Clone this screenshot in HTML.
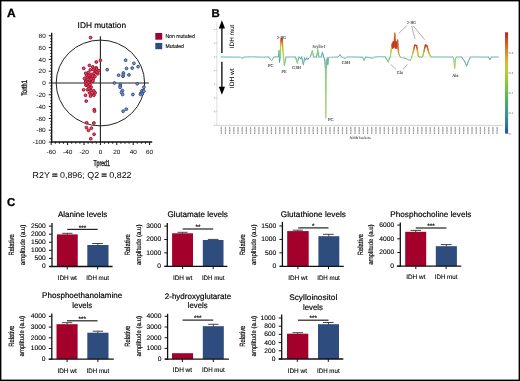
<!DOCTYPE html>
<html><head><meta charset="utf-8"><style>
html,body{margin:0;padding:0;background:#fff;}
body{width:520px;height:381px;overflow:hidden;}
svg{display:block;font-family:"Liberation Sans", sans-serif;will-change:transform;text-rendering:geometricPrecision;}
</style></head><body>
<svg width="520" height="381" viewBox="0 0 520 381">
<rect x="0" y="0" width="520" height="381" fill="#fff"/>
<text x="6.90" y="17.40" font-size="11.9" text-anchor="start" font-weight="bold" fill="#000"  stroke="#000" stroke-width="0.35">A</text>
<text x="77.60" y="27.75" font-size="8.2" text-anchor="start" font-weight="normal" fill="#000" textLength="48.4" lengthAdjust="spacingAndGlyphs"  stroke="#000" stroke-width="0.15">IDH mutation</text>
<ellipse cx="100.4" cy="83" rx="44.2" ry="42.9" fill="none" stroke="#222" stroke-width="1"/>
<line x1="51.70" y1="83.00" x2="148.80" y2="83.00" stroke="#222" stroke-width="1.1" />
<line x1="100.40" y1="36.20" x2="100.40" y2="142.00" stroke="#222" stroke-width="1.1" />
<line x1="51.70" y1="32.80" x2="51.70" y2="142.60" stroke="#111" stroke-width="1.3" />
<line x1="48.80" y1="142.00" x2="51.70" y2="142.00" stroke="#111" stroke-width="1.0" />
<text x="45.70" y="144.20" font-size="6.2" text-anchor="end" font-weight="normal" fill="#000" textLength="12.95" lengthAdjust="spacingAndGlyphs" >-100</text>
<line x1="50.10" y1="139.05" x2="51.70" y2="139.05" stroke="#111" stroke-width="0.9" />
<line x1="50.10" y1="136.10" x2="51.70" y2="136.10" stroke="#111" stroke-width="0.9" />
<line x1="50.10" y1="133.15" x2="51.70" y2="133.15" stroke="#111" stroke-width="0.9" />
<line x1="48.80" y1="130.20" x2="51.70" y2="130.20" stroke="#111" stroke-width="1.0" />
<text x="45.70" y="132.40" font-size="6.2" text-anchor="end" font-weight="normal" fill="#000" textLength="9.4" lengthAdjust="spacingAndGlyphs" >-80</text>
<line x1="50.10" y1="127.25" x2="51.70" y2="127.25" stroke="#111" stroke-width="0.9" />
<line x1="50.10" y1="124.30" x2="51.70" y2="124.30" stroke="#111" stroke-width="0.9" />
<line x1="50.10" y1="121.35" x2="51.70" y2="121.35" stroke="#111" stroke-width="0.9" />
<line x1="48.80" y1="118.40" x2="51.70" y2="118.40" stroke="#111" stroke-width="1.0" />
<text x="45.70" y="120.60" font-size="6.2" text-anchor="end" font-weight="normal" fill="#000" textLength="9.4" lengthAdjust="spacingAndGlyphs" >-60</text>
<line x1="50.10" y1="115.45" x2="51.70" y2="115.45" stroke="#111" stroke-width="0.9" />
<line x1="50.10" y1="112.50" x2="51.70" y2="112.50" stroke="#111" stroke-width="0.9" />
<line x1="50.10" y1="109.55" x2="51.70" y2="109.55" stroke="#111" stroke-width="0.9" />
<line x1="48.80" y1="106.60" x2="51.70" y2="106.60" stroke="#111" stroke-width="1.0" />
<text x="45.70" y="108.80" font-size="6.2" text-anchor="end" font-weight="normal" fill="#000" textLength="9.4" lengthAdjust="spacingAndGlyphs" >-40</text>
<line x1="50.10" y1="103.65" x2="51.70" y2="103.65" stroke="#111" stroke-width="0.9" />
<line x1="50.10" y1="100.70" x2="51.70" y2="100.70" stroke="#111" stroke-width="0.9" />
<line x1="50.10" y1="97.75" x2="51.70" y2="97.75" stroke="#111" stroke-width="0.9" />
<line x1="48.80" y1="94.80" x2="51.70" y2="94.80" stroke="#111" stroke-width="1.0" />
<text x="45.70" y="97.00" font-size="6.2" text-anchor="end" font-weight="normal" fill="#000" textLength="9.4" lengthAdjust="spacingAndGlyphs" >-20</text>
<line x1="50.10" y1="91.85" x2="51.70" y2="91.85" stroke="#111" stroke-width="0.9" />
<line x1="50.10" y1="88.90" x2="51.70" y2="88.90" stroke="#111" stroke-width="0.9" />
<line x1="50.10" y1="85.95" x2="51.70" y2="85.95" stroke="#111" stroke-width="0.9" />
<line x1="48.80" y1="83.00" x2="51.70" y2="83.00" stroke="#111" stroke-width="1.0" />
<text x="45.70" y="85.20" font-size="6.2" text-anchor="end" font-weight="normal" fill="#000" textLength="3.55" lengthAdjust="spacingAndGlyphs" >0</text>
<line x1="50.10" y1="80.05" x2="51.70" y2="80.05" stroke="#111" stroke-width="0.9" />
<line x1="50.10" y1="77.10" x2="51.70" y2="77.10" stroke="#111" stroke-width="0.9" />
<line x1="50.10" y1="74.15" x2="51.70" y2="74.15" stroke="#111" stroke-width="0.9" />
<line x1="48.80" y1="71.20" x2="51.70" y2="71.20" stroke="#111" stroke-width="1.0" />
<text x="45.70" y="73.40" font-size="6.2" text-anchor="end" font-weight="normal" fill="#000" textLength="7.1" lengthAdjust="spacingAndGlyphs" >20</text>
<line x1="50.10" y1="68.25" x2="51.70" y2="68.25" stroke="#111" stroke-width="0.9" />
<line x1="50.10" y1="65.30" x2="51.70" y2="65.30" stroke="#111" stroke-width="0.9" />
<line x1="50.10" y1="62.35" x2="51.70" y2="62.35" stroke="#111" stroke-width="0.9" />
<line x1="48.80" y1="59.40" x2="51.70" y2="59.40" stroke="#111" stroke-width="1.0" />
<text x="45.70" y="61.60" font-size="6.2" text-anchor="end" font-weight="normal" fill="#000" textLength="7.1" lengthAdjust="spacingAndGlyphs" >40</text>
<line x1="50.10" y1="56.45" x2="51.70" y2="56.45" stroke="#111" stroke-width="0.9" />
<line x1="50.10" y1="53.50" x2="51.70" y2="53.50" stroke="#111" stroke-width="0.9" />
<line x1="50.10" y1="50.55" x2="51.70" y2="50.55" stroke="#111" stroke-width="0.9" />
<line x1="48.80" y1="47.60" x2="51.70" y2="47.60" stroke="#111" stroke-width="1.0" />
<text x="45.70" y="49.80" font-size="6.2" text-anchor="end" font-weight="normal" fill="#000" textLength="7.1" lengthAdjust="spacingAndGlyphs" >60</text>
<line x1="50.10" y1="44.65" x2="51.70" y2="44.65" stroke="#111" stroke-width="0.9" />
<line x1="50.10" y1="41.70" x2="51.70" y2="41.70" stroke="#111" stroke-width="0.9" />
<line x1="50.10" y1="38.75" x2="51.70" y2="38.75" stroke="#111" stroke-width="0.9" />
<line x1="48.80" y1="35.80" x2="51.70" y2="35.80" stroke="#111" stroke-width="1.0" />
<text x="45.70" y="38.00" font-size="6.2" text-anchor="end" font-weight="normal" fill="#000" textLength="7.1" lengthAdjust="spacingAndGlyphs" >80</text>
<line x1="51.10" y1="142.00" x2="152.20" y2="142.00" stroke="#111" stroke-width="1.3" />
<line x1="51.20" y1="142.00" x2="51.20" y2="145.00" stroke="#111" stroke-width="1.0" />
<text x="51.30" y="153.90" font-size="6.2" text-anchor="middle" font-weight="normal" fill="#000" textLength="9.4" lengthAdjust="spacingAndGlyphs" >-60</text>
<line x1="55.30" y1="142.00" x2="55.30" y2="143.80" stroke="#111" stroke-width="0.9" />
<line x1="59.40" y1="142.00" x2="59.40" y2="143.80" stroke="#111" stroke-width="0.9" />
<line x1="63.50" y1="142.00" x2="63.50" y2="143.80" stroke="#111" stroke-width="0.9" />
<line x1="67.60" y1="142.00" x2="67.60" y2="145.00" stroke="#111" stroke-width="1.0" />
<text x="67.70" y="153.90" font-size="6.2" text-anchor="middle" font-weight="normal" fill="#000" textLength="9.4" lengthAdjust="spacingAndGlyphs" >-40</text>
<line x1="71.70" y1="142.00" x2="71.70" y2="143.80" stroke="#111" stroke-width="0.9" />
<line x1="75.80" y1="142.00" x2="75.80" y2="143.80" stroke="#111" stroke-width="0.9" />
<line x1="79.90" y1="142.00" x2="79.90" y2="143.80" stroke="#111" stroke-width="0.9" />
<line x1="84.00" y1="142.00" x2="84.00" y2="145.00" stroke="#111" stroke-width="1.0" />
<text x="84.10" y="153.90" font-size="6.2" text-anchor="middle" font-weight="normal" fill="#000" textLength="9.4" lengthAdjust="spacingAndGlyphs" >-20</text>
<line x1="88.10" y1="142.00" x2="88.10" y2="143.80" stroke="#111" stroke-width="0.9" />
<line x1="92.20" y1="142.00" x2="92.20" y2="143.80" stroke="#111" stroke-width="0.9" />
<line x1="96.30" y1="142.00" x2="96.30" y2="143.80" stroke="#111" stroke-width="0.9" />
<line x1="100.40" y1="142.00" x2="100.40" y2="145.00" stroke="#111" stroke-width="1.0" />
<text x="100.40" y="153.90" font-size="6.2" text-anchor="middle" font-weight="normal" fill="#000" textLength="3.55" lengthAdjust="spacingAndGlyphs" >0</text>
<line x1="104.50" y1="142.00" x2="104.50" y2="143.80" stroke="#111" stroke-width="0.9" />
<line x1="108.60" y1="142.00" x2="108.60" y2="143.80" stroke="#111" stroke-width="0.9" />
<line x1="112.70" y1="142.00" x2="112.70" y2="143.80" stroke="#111" stroke-width="0.9" />
<line x1="116.80" y1="142.00" x2="116.80" y2="145.00" stroke="#111" stroke-width="1.0" />
<text x="116.80" y="153.90" font-size="6.2" text-anchor="middle" font-weight="normal" fill="#000" textLength="7.1" lengthAdjust="spacingAndGlyphs" >20</text>
<line x1="120.90" y1="142.00" x2="120.90" y2="143.80" stroke="#111" stroke-width="0.9" />
<line x1="125.00" y1="142.00" x2="125.00" y2="143.80" stroke="#111" stroke-width="0.9" />
<line x1="129.10" y1="142.00" x2="129.10" y2="143.80" stroke="#111" stroke-width="0.9" />
<line x1="133.20" y1="142.00" x2="133.20" y2="145.00" stroke="#111" stroke-width="1.0" />
<text x="133.20" y="153.90" font-size="6.2" text-anchor="middle" font-weight="normal" fill="#000" textLength="7.1" lengthAdjust="spacingAndGlyphs" >40</text>
<line x1="137.30" y1="142.00" x2="137.30" y2="143.80" stroke="#111" stroke-width="0.9" />
<line x1="141.40" y1="142.00" x2="141.40" y2="143.80" stroke="#111" stroke-width="0.9" />
<line x1="145.50" y1="142.00" x2="145.50" y2="143.80" stroke="#111" stroke-width="0.9" />
<line x1="149.60" y1="142.00" x2="149.60" y2="145.00" stroke="#111" stroke-width="1.0" />
<text x="149.60" y="153.90" font-size="6.2" text-anchor="middle" font-weight="normal" fill="#000" textLength="7.1" lengthAdjust="spacingAndGlyphs" >60</text>
<text transform="translate(24.00,88.00) rotate(-90)" x="0" y="2.88" font-size="8.0" text-anchor="middle" fill="#000" textLength="15.4" lengthAdjust="spacingAndGlyphs" stroke="#000" stroke-width="0.3">Torth1</text>
<text x="101.60" y="165.70" font-size="8.3" text-anchor="middle" font-weight="normal" fill="#000" textLength="16.4" lengthAdjust="spacingAndGlyphs"  stroke="#000" stroke-width="0.3">Tpred1</text>
<text x="32.6" y="178.3" font-size="8.6" textLength="99" lengthAdjust="spacingAndGlyphs">R2Y <tspan stroke="#444" stroke-width="0.75">=</tspan> 0,896; Q2 <tspan stroke="#444" stroke-width="0.75">=</tspan> 0,822</text>
<rect x="155.30" y="33.00" width="6.90" height="6.70" fill="#a3002c"/>
<rect x="155.30" y="42.90" width="6.90" height="6.30" fill="#2f4c7e"/>
<text x="165.40" y="38.30" font-size="5.6" text-anchor="start" font-weight="normal" fill="#000" textLength="29.4" lengthAdjust="spacingAndGlyphs"  stroke="#000" stroke-width="0.1">Non mutated</text>
<text x="165.40" y="47.90" font-size="5.6" text-anchor="start" font-weight="normal" fill="#000" textLength="18.6" lengthAdjust="spacingAndGlyphs"  stroke="#000" stroke-width="0.1">Mutated</text>
<circle cx="90.6" cy="37.6" r="1.4" fill="#d05868" stroke="#a50a2a" stroke-width="0.95"/>
<circle cx="100.4" cy="60.3" r="1.4" fill="#d05868" stroke="#a50a2a" stroke-width="0.95"/>
<circle cx="96.3" cy="62.0" r="1.4" fill="#d05868" stroke="#a50a2a" stroke-width="0.95"/>
<circle cx="83.7" cy="68.3" r="1.4" fill="#d05868" stroke="#a50a2a" stroke-width="0.95"/>
<circle cx="89.4" cy="65.4" r="1.4" fill="#d05868" stroke="#a50a2a" stroke-width="0.95"/>
<circle cx="92.8" cy="67.0" r="1.4" fill="#d05868" stroke="#a50a2a" stroke-width="0.95"/>
<circle cx="96.2" cy="67.8" r="1.4" fill="#d05868" stroke="#a50a2a" stroke-width="0.95"/>
<circle cx="90.4" cy="69.9" r="1.4" fill="#d05868" stroke="#a50a2a" stroke-width="0.95"/>
<circle cx="93.3" cy="69.6" r="1.4" fill="#d05868" stroke="#a50a2a" stroke-width="0.95"/>
<circle cx="98.8" cy="70.7" r="1.4" fill="#d05868" stroke="#a50a2a" stroke-width="0.95"/>
<circle cx="88.3" cy="72.5" r="1.4" fill="#d05868" stroke="#a50a2a" stroke-width="0.95"/>
<circle cx="91.2" cy="74.4" r="1.4" fill="#d05868" stroke="#a50a2a" stroke-width="0.95"/>
<circle cx="85.7" cy="73.3" r="1.4" fill="#d05868" stroke="#a50a2a" stroke-width="0.95"/>
<circle cx="94.1" cy="73.3" r="1.4" fill="#d05868" stroke="#a50a2a" stroke-width="0.95"/>
<circle cx="97.8" cy="73.8" r="1.4" fill="#d05868" stroke="#a50a2a" stroke-width="0.95"/>
<circle cx="86.7" cy="75.4" r="1.4" fill="#d05868" stroke="#a50a2a" stroke-width="0.95"/>
<circle cx="90.2" cy="77.3" r="1.4" fill="#d05868" stroke="#a50a2a" stroke-width="0.95"/>
<circle cx="87.3" cy="77.5" r="1.4" fill="#d05868" stroke="#a50a2a" stroke-width="0.95"/>
<circle cx="93.3" cy="78.8" r="1.4" fill="#d05868" stroke="#a50a2a" stroke-width="0.95"/>
<circle cx="85.7" cy="81.0" r="1.4" fill="#d05868" stroke="#a50a2a" stroke-width="0.95"/>
<circle cx="89.4" cy="81.0" r="1.4" fill="#d05868" stroke="#a50a2a" stroke-width="0.95"/>
<circle cx="92.5" cy="81.2" r="1.4" fill="#d05868" stroke="#a50a2a" stroke-width="0.95"/>
<circle cx="85.5" cy="82.4" r="1.4" fill="#d05868" stroke="#a50a2a" stroke-width="0.95"/>
<circle cx="88.8" cy="82.8" r="1.4" fill="#d05868" stroke="#a50a2a" stroke-width="0.95"/>
<circle cx="92.8" cy="81.0" r="1.4" fill="#d05868" stroke="#a50a2a" stroke-width="0.95"/>
<circle cx="85.9" cy="85.2" r="1.4" fill="#d05868" stroke="#a50a2a" stroke-width="0.95"/>
<circle cx="88.5" cy="86.6" r="1.4" fill="#d05868" stroke="#a50a2a" stroke-width="0.95"/>
<circle cx="91.1" cy="87.2" r="1.4" fill="#d05868" stroke="#a50a2a" stroke-width="0.95"/>
<circle cx="83.6" cy="89.8" r="1.4" fill="#d05868" stroke="#a50a2a" stroke-width="0.95"/>
<circle cx="87.5" cy="89.8" r="1.4" fill="#d05868" stroke="#a50a2a" stroke-width="0.95"/>
<circle cx="91.1" cy="90.5" r="1.4" fill="#d05868" stroke="#a50a2a" stroke-width="0.95"/>
<circle cx="93.7" cy="90.8" r="1.4" fill="#d05868" stroke="#a50a2a" stroke-width="0.95"/>
<circle cx="95.1" cy="92.8" r="1.4" fill="#d05868" stroke="#a50a2a" stroke-width="0.95"/>
<circle cx="92.4" cy="94.1" r="1.4" fill="#d05868" stroke="#a50a2a" stroke-width="0.95"/>
<circle cx="85.5" cy="95.3" r="1.4" fill="#d05868" stroke="#a50a2a" stroke-width="0.95"/>
<circle cx="90.5" cy="96.1" r="1.4" fill="#d05868" stroke="#a50a2a" stroke-width="0.95"/>
<circle cx="93.9" cy="95.2" r="1.4" fill="#d05868" stroke="#a50a2a" stroke-width="0.95"/>
<circle cx="86.2" cy="101.1" r="1.4" fill="#d05868" stroke="#a50a2a" stroke-width="0.95"/>
<circle cx="94.3" cy="109.6" r="1.4" fill="#d05868" stroke="#a50a2a" stroke-width="0.95"/>
<circle cx="94.5" cy="111.2" r="1.4" fill="#d05868" stroke="#a50a2a" stroke-width="0.95"/>
<circle cx="86.7" cy="122.8" r="1.4" fill="#d05868" stroke="#a50a2a" stroke-width="0.95"/>
<circle cx="93.9" cy="123.0" r="1.4" fill="#d05868" stroke="#a50a2a" stroke-width="0.95"/>
<circle cx="86.4" cy="127.6" r="1.4" fill="#d05868" stroke="#a50a2a" stroke-width="0.95"/>
<circle cx="88.5" cy="130.4" r="1.4" fill="#d05868" stroke="#a50a2a" stroke-width="0.95"/>
<circle cx="91.4" cy="128.2" r="1.4" fill="#d05868" stroke="#a50a2a" stroke-width="0.95"/>
<circle cx="94.1" cy="134.3" r="1.4" fill="#d05868" stroke="#a50a2a" stroke-width="0.95"/>
<circle cx="90.7" cy="138.8" r="1.4" fill="#d05868" stroke="#a50a2a" stroke-width="0.95"/>
<circle cx="95.5" cy="71.0" r="1.4" fill="#d05868" stroke="#a50a2a" stroke-width="0.95"/>
<circle cx="89.0" cy="75.5" r="1.4" fill="#d05868" stroke="#a50a2a" stroke-width="0.95"/>
<circle cx="92.5" cy="76.0" r="1.4" fill="#d05868" stroke="#a50a2a" stroke-width="0.95"/>
<circle cx="95.0" cy="76.5" r="1.4" fill="#d05868" stroke="#a50a2a" stroke-width="0.95"/>
<circle cx="84.5" cy="78.5" r="1.4" fill="#d05868" stroke="#a50a2a" stroke-width="0.95"/>
<circle cx="88.0" cy="79.5" r="1.4" fill="#d05868" stroke="#a50a2a" stroke-width="0.95"/>
<circle cx="91.0" cy="79.0" r="1.4" fill="#d05868" stroke="#a50a2a" stroke-width="0.95"/>
<circle cx="87.0" cy="84.0" r="1.4" fill="#d05868" stroke="#a50a2a" stroke-width="0.95"/>
<circle cx="90.0" cy="84.5" r="1.4" fill="#d05868" stroke="#a50a2a" stroke-width="0.95"/>
<circle cx="89.0" cy="88.5" r="1.4" fill="#d05868" stroke="#a50a2a" stroke-width="0.95"/>
<circle cx="89.5" cy="93.0" r="1.4" fill="#d05868" stroke="#a50a2a" stroke-width="0.95"/>
<circle cx="96.5" cy="69.0" r="1.4" fill="#d05868" stroke="#a50a2a" stroke-width="0.95"/>
<circle cx="97.0" cy="72.0" r="1.4" fill="#d05868" stroke="#a50a2a" stroke-width="0.95"/>
<circle cx="125.6" cy="60.2" r="1.4" fill="#8298c4" stroke="#2f4d8a" stroke-width="0.95"/>
<circle cx="133.9" cy="63.4" r="1.4" fill="#8298c4" stroke="#2f4d8a" stroke-width="0.95"/>
<circle cx="138.1" cy="66.7" r="1.4" fill="#8298c4" stroke="#2f4d8a" stroke-width="0.95"/>
<circle cx="132.2" cy="68.1" r="1.4" fill="#8298c4" stroke="#2f4d8a" stroke-width="0.95"/>
<circle cx="126.5" cy="68.4" r="1.4" fill="#8298c4" stroke="#2f4d8a" stroke-width="0.95"/>
<circle cx="107.2" cy="69.7" r="1.4" fill="#8298c4" stroke="#2f4d8a" stroke-width="0.95"/>
<circle cx="123.4" cy="73.0" r="1.4" fill="#8298c4" stroke="#2f4d8a" stroke-width="0.95"/>
<circle cx="118.6" cy="75.2" r="1.4" fill="#8298c4" stroke="#2f4d8a" stroke-width="0.95"/>
<circle cx="123.0" cy="76.2" r="1.4" fill="#8298c4" stroke="#2f4d8a" stroke-width="0.95"/>
<circle cx="128.9" cy="74.9" r="1.4" fill="#8298c4" stroke="#2f4d8a" stroke-width="0.95"/>
<circle cx="123.4" cy="74.7" r="1.4" fill="#8298c4" stroke="#2f4d8a" stroke-width="0.95"/>
<circle cx="114.4" cy="83.0" r="1.4" fill="#8298c4" stroke="#2f4d8a" stroke-width="0.95"/>
<circle cx="137.2" cy="83.8" r="1.4" fill="#8298c4" stroke="#2f4d8a" stroke-width="0.95"/>
<circle cx="120.3" cy="84.6" r="1.4" fill="#8298c4" stroke="#2f4d8a" stroke-width="0.95"/>
<circle cx="120.3" cy="86.0" r="1.4" fill="#8298c4" stroke="#2f4d8a" stroke-width="0.95"/>
<circle cx="120.1" cy="87.3" r="1.4" fill="#8298c4" stroke="#2f4d8a" stroke-width="0.95"/>
<circle cx="122.4" cy="90.6" r="1.4" fill="#8298c4" stroke="#2f4d8a" stroke-width="0.95"/>
<circle cx="121.5" cy="92.4" r="1.4" fill="#8298c4" stroke="#2f4d8a" stroke-width="0.95"/>
<circle cx="122.6" cy="94.5" r="1.4" fill="#8298c4" stroke="#2f4d8a" stroke-width="0.95"/>
<circle cx="132.9" cy="94.5" r="1.4" fill="#8298c4" stroke="#2f4d8a" stroke-width="0.95"/>
<circle cx="143.9" cy="87.3" r="1.4" fill="#8298c4" stroke="#2f4d8a" stroke-width="0.95"/>
<circle cx="142.0" cy="90.7" r="1.4" fill="#8298c4" stroke="#2f4d8a" stroke-width="0.95"/>
<circle cx="143.8" cy="91.2" r="1.4" fill="#8298c4" stroke="#2f4d8a" stroke-width="0.95"/>
<circle cx="141.0" cy="93.1" r="1.4" fill="#8298c4" stroke="#2f4d8a" stroke-width="0.95"/>
<circle cx="140.4" cy="94.3" r="1.4" fill="#8298c4" stroke="#2f4d8a" stroke-width="0.95"/>
<circle cx="142.3" cy="93.9" r="1.4" fill="#8298c4" stroke="#2f4d8a" stroke-width="0.95"/>
<circle cx="126.3" cy="109.2" r="1.4" fill="#8298c4" stroke="#2f4d8a" stroke-width="0.95"/>
<circle cx="123.1" cy="111.2" r="1.4" fill="#8298c4" stroke="#2f4d8a" stroke-width="0.95"/>
<text x="211.60" y="17.20" font-size="11.4" text-anchor="start" font-weight="bold" fill="#000"  stroke="#000" stroke-width="0.3">B</text>
<defs><linearGradient id="cb" x1="0" y1="1" x2="0" y2="0"><stop offset="0.00" stop-color="#2850a0"/><stop offset="0.05" stop-color="#2d64a5"/><stop offset="0.10" stop-color="#3278aa"/><stop offset="0.15" stop-color="#3787a0"/><stop offset="0.20" stop-color="#3c9696"/><stop offset="0.25" stop-color="#41a082"/><stop offset="0.30" stop-color="#46aa6e"/><stop offset="0.35" stop-color="#54b45a"/><stop offset="0.40" stop-color="#64be46"/><stop offset="0.45" stop-color="#78c341"/><stop offset="0.50" stop-color="#8cc83c"/><stop offset="0.55" stop-color="#a0ca3c"/><stop offset="0.60" stop-color="#b4cd3c"/><stop offset="0.65" stop-color="#c5c539"/><stop offset="0.70" stop-color="#d7be37"/><stop offset="0.75" stop-color="#d9a532"/><stop offset="0.80" stop-color="#dc8c2d"/><stop offset="0.85" stop-color="#d77328"/><stop offset="0.90" stop-color="#d25a23"/><stop offset="0.95" stop-color="#c83e20"/><stop offset="1.00" stop-color="#be231e"/></linearGradient></defs>
<rect x="505.00" y="32.30" width="3.10" height="101.30" fill="url(#cb)"/>
<line x1="508.10" y1="133.60" x2="509.00" y2="133.60" stroke="#777" stroke-width="0.4" />
<text x="509.30" y="134.60" font-size="2.8" text-anchor="start" font-weight="normal" fill="#666" >0</text>
<line x1="508.10" y1="113.35" x2="509.00" y2="113.35" stroke="#777" stroke-width="0.4" />
<text x="509.30" y="114.35" font-size="2.8" text-anchor="start" font-weight="normal" fill="#666" >0.2</text>
<line x1="508.10" y1="93.10" x2="509.00" y2="93.10" stroke="#777" stroke-width="0.4" />
<text x="509.30" y="94.10" font-size="2.8" text-anchor="start" font-weight="normal" fill="#666" >0.4</text>
<line x1="508.10" y1="72.85" x2="509.00" y2="72.85" stroke="#777" stroke-width="0.4" />
<text x="509.30" y="73.85" font-size="2.8" text-anchor="start" font-weight="normal" fill="#666" >0.6</text>
<line x1="508.10" y1="52.60" x2="509.00" y2="52.60" stroke="#777" stroke-width="0.4" />
<text x="509.30" y="53.60" font-size="2.8" text-anchor="start" font-weight="normal" fill="#666" >0.8</text>
<line x1="216.90" y1="22.00" x2="216.90" y2="125.40" stroke="#c8c8c8" stroke-width="0.6" />
<line x1="216.90" y1="125.40" x2="502.60" y2="125.40" stroke="#c0c0c0" stroke-width="0.7" />
<line x1="215.70" y1="29.50" x2="216.90" y2="29.50" stroke="#aaa" stroke-width="0.5" />
<rect x="213.9" y="28.90" width="1.3" height="1.2" fill="#bbb"/>
<line x1="215.70" y1="43.20" x2="216.90" y2="43.20" stroke="#aaa" stroke-width="0.5" />
<rect x="213.9" y="42.60" width="1.3" height="1.2" fill="#bbb"/>
<line x1="215.70" y1="56.90" x2="216.90" y2="56.90" stroke="#aaa" stroke-width="0.5" />
<rect x="213.9" y="56.30" width="1.3" height="1.2" fill="#bbb"/>
<line x1="215.70" y1="70.60" x2="216.90" y2="70.60" stroke="#aaa" stroke-width="0.5" />
<rect x="213.9" y="70.00" width="1.3" height="1.2" fill="#bbb"/>
<line x1="215.70" y1="84.30" x2="216.90" y2="84.30" stroke="#aaa" stroke-width="0.5" />
<rect x="213.9" y="83.70" width="1.3" height="1.2" fill="#bbb"/>
<line x1="215.70" y1="98.00" x2="216.90" y2="98.00" stroke="#aaa" stroke-width="0.5" />
<rect x="213.9" y="97.40" width="1.3" height="1.2" fill="#bbb"/>
<line x1="215.70" y1="111.70" x2="216.90" y2="111.70" stroke="#aaa" stroke-width="0.5" />
<rect x="213.9" y="111.10" width="1.3" height="1.2" fill="#bbb"/>
<line x1="215.70" y1="125.40" x2="216.90" y2="125.40" stroke="#aaa" stroke-width="0.5" />
<rect x="213.9" y="124.80" width="1.3" height="1.2" fill="#bbb"/>
<rect x="220.65" y="126.8" width="1.3" height="5.8" fill="#b8b8b8"/>
<rect x="220.80" y="127.6" width="1.0" height="0.9" fill="#909090"/>
<rect x="220.80" y="129.8" width="1.0" height="0.9" fill="#999"/>
<rect x="220.70" y="132.7" width="1.2" height="1.1" fill="#777"/>
<rect x="224.83" y="126.8" width="1.3" height="5.8" fill="#b8b8b8"/>
<rect x="224.98" y="127.6" width="1.0" height="0.9" fill="#909090"/>
<rect x="224.98" y="129.8" width="1.0" height="0.9" fill="#999"/>
<rect x="224.88" y="132.7" width="1.2" height="1.1" fill="#777"/>
<rect x="229.01" y="126.8" width="1.3" height="5.8" fill="#b8b8b8"/>
<rect x="229.16" y="127.6" width="1.0" height="0.9" fill="#909090"/>
<rect x="229.16" y="129.8" width="1.0" height="0.9" fill="#999"/>
<rect x="229.06" y="132.7" width="1.2" height="1.1" fill="#777"/>
<rect x="233.19" y="126.8" width="1.3" height="5.8" fill="#b8b8b8"/>
<rect x="233.34" y="127.6" width="1.0" height="0.9" fill="#909090"/>
<rect x="233.34" y="129.8" width="1.0" height="0.9" fill="#999"/>
<rect x="233.24" y="132.7" width="1.2" height="1.1" fill="#777"/>
<rect x="237.37" y="126.8" width="1.3" height="5.8" fill="#b8b8b8"/>
<rect x="237.52" y="127.6" width="1.0" height="0.9" fill="#909090"/>
<rect x="237.52" y="129.8" width="1.0" height="0.9" fill="#999"/>
<rect x="237.42" y="132.7" width="1.2" height="1.1" fill="#777"/>
<rect x="241.54" y="126.8" width="1.3" height="5.8" fill="#b8b8b8"/>
<rect x="241.69" y="127.6" width="1.0" height="0.9" fill="#909090"/>
<rect x="241.69" y="129.8" width="1.0" height="0.9" fill="#999"/>
<rect x="241.59" y="132.7" width="1.2" height="1.1" fill="#777"/>
<rect x="245.72" y="126.8" width="1.3" height="5.8" fill="#b8b8b8"/>
<rect x="245.87" y="127.6" width="1.0" height="0.9" fill="#909090"/>
<rect x="245.87" y="129.8" width="1.0" height="0.9" fill="#999"/>
<rect x="245.77" y="132.7" width="1.2" height="1.1" fill="#777"/>
<rect x="249.90" y="126.8" width="1.3" height="5.8" fill="#b8b8b8"/>
<rect x="250.05" y="127.6" width="1.0" height="0.9" fill="#909090"/>
<rect x="250.05" y="129.8" width="1.0" height="0.9" fill="#999"/>
<rect x="249.95" y="132.7" width="1.2" height="1.1" fill="#777"/>
<rect x="254.08" y="126.8" width="1.3" height="5.8" fill="#b8b8b8"/>
<rect x="254.23" y="127.6" width="1.0" height="0.9" fill="#909090"/>
<rect x="254.23" y="129.8" width="1.0" height="0.9" fill="#999"/>
<rect x="254.13" y="132.7" width="1.2" height="1.1" fill="#777"/>
<rect x="258.26" y="126.8" width="1.3" height="5.8" fill="#b8b8b8"/>
<rect x="258.41" y="127.6" width="1.0" height="0.9" fill="#909090"/>
<rect x="258.41" y="129.8" width="1.0" height="0.9" fill="#999"/>
<rect x="258.31" y="132.7" width="1.2" height="1.1" fill="#777"/>
<rect x="262.44" y="126.8" width="1.3" height="5.8" fill="#b8b8b8"/>
<rect x="262.59" y="127.6" width="1.0" height="0.9" fill="#909090"/>
<rect x="262.59" y="129.8" width="1.0" height="0.9" fill="#999"/>
<rect x="262.49" y="132.7" width="1.2" height="1.1" fill="#777"/>
<rect x="266.62" y="126.8" width="1.3" height="5.8" fill="#b8b8b8"/>
<rect x="266.77" y="127.6" width="1.0" height="0.9" fill="#909090"/>
<rect x="266.77" y="129.8" width="1.0" height="0.9" fill="#999"/>
<rect x="266.67" y="132.7" width="1.2" height="1.1" fill="#777"/>
<rect x="270.80" y="126.8" width="1.3" height="5.8" fill="#b8b8b8"/>
<rect x="270.95" y="127.6" width="1.0" height="0.9" fill="#909090"/>
<rect x="270.95" y="129.8" width="1.0" height="0.9" fill="#999"/>
<rect x="270.85" y="132.7" width="1.2" height="1.1" fill="#777"/>
<rect x="274.97" y="126.8" width="1.3" height="5.8" fill="#b8b8b8"/>
<rect x="275.12" y="127.6" width="1.0" height="0.9" fill="#909090"/>
<rect x="275.12" y="129.8" width="1.0" height="0.9" fill="#999"/>
<rect x="275.02" y="132.7" width="1.2" height="1.1" fill="#777"/>
<rect x="279.15" y="126.8" width="1.3" height="5.8" fill="#b8b8b8"/>
<rect x="279.30" y="127.6" width="1.0" height="0.9" fill="#909090"/>
<rect x="279.30" y="129.8" width="1.0" height="0.9" fill="#999"/>
<rect x="279.20" y="132.7" width="1.2" height="1.1" fill="#777"/>
<rect x="283.33" y="126.8" width="1.3" height="5.8" fill="#b8b8b8"/>
<rect x="283.48" y="127.6" width="1.0" height="0.9" fill="#909090"/>
<rect x="283.48" y="129.8" width="1.0" height="0.9" fill="#999"/>
<rect x="283.38" y="132.7" width="1.2" height="1.1" fill="#777"/>
<rect x="287.51" y="126.8" width="1.3" height="5.8" fill="#b8b8b8"/>
<rect x="287.66" y="127.6" width="1.0" height="0.9" fill="#909090"/>
<rect x="287.66" y="129.8" width="1.0" height="0.9" fill="#999"/>
<rect x="287.56" y="132.7" width="1.2" height="1.1" fill="#777"/>
<rect x="291.69" y="126.8" width="1.3" height="5.8" fill="#b8b8b8"/>
<rect x="291.84" y="127.6" width="1.0" height="0.9" fill="#909090"/>
<rect x="291.84" y="129.8" width="1.0" height="0.9" fill="#999"/>
<rect x="291.74" y="132.7" width="1.2" height="1.1" fill="#777"/>
<rect x="295.87" y="126.8" width="1.3" height="5.8" fill="#b8b8b8"/>
<rect x="296.02" y="127.6" width="1.0" height="0.9" fill="#909090"/>
<rect x="296.02" y="129.8" width="1.0" height="0.9" fill="#999"/>
<rect x="295.92" y="132.7" width="1.2" height="1.1" fill="#777"/>
<rect x="300.05" y="126.8" width="1.3" height="5.8" fill="#b8b8b8"/>
<rect x="300.20" y="127.6" width="1.0" height="0.9" fill="#909090"/>
<rect x="300.20" y="129.8" width="1.0" height="0.9" fill="#999"/>
<rect x="300.10" y="132.7" width="1.2" height="1.1" fill="#777"/>
<rect x="304.23" y="126.8" width="1.3" height="5.8" fill="#b8b8b8"/>
<rect x="304.38" y="127.6" width="1.0" height="0.9" fill="#909090"/>
<rect x="304.38" y="129.8" width="1.0" height="0.9" fill="#999"/>
<rect x="304.28" y="132.7" width="1.2" height="1.1" fill="#777"/>
<rect x="308.40" y="126.8" width="1.3" height="5.8" fill="#b8b8b8"/>
<rect x="308.55" y="127.6" width="1.0" height="0.9" fill="#909090"/>
<rect x="308.55" y="129.8" width="1.0" height="0.9" fill="#999"/>
<rect x="308.45" y="132.7" width="1.2" height="1.1" fill="#777"/>
<rect x="312.58" y="126.8" width="1.3" height="5.8" fill="#b8b8b8"/>
<rect x="312.73" y="127.6" width="1.0" height="0.9" fill="#909090"/>
<rect x="312.73" y="129.8" width="1.0" height="0.9" fill="#999"/>
<rect x="312.63" y="132.7" width="1.2" height="1.1" fill="#777"/>
<rect x="316.76" y="126.8" width="1.3" height="5.8" fill="#b8b8b8"/>
<rect x="316.91" y="127.6" width="1.0" height="0.9" fill="#909090"/>
<rect x="316.91" y="129.8" width="1.0" height="0.9" fill="#999"/>
<rect x="316.81" y="132.7" width="1.2" height="1.1" fill="#777"/>
<rect x="320.94" y="126.8" width="1.3" height="5.8" fill="#b8b8b8"/>
<rect x="321.09" y="127.6" width="1.0" height="0.9" fill="#909090"/>
<rect x="321.09" y="129.8" width="1.0" height="0.9" fill="#999"/>
<rect x="320.99" y="132.7" width="1.2" height="1.1" fill="#777"/>
<rect x="325.12" y="126.8" width="1.3" height="5.8" fill="#b8b8b8"/>
<rect x="325.27" y="127.6" width="1.0" height="0.9" fill="#909090"/>
<rect x="325.27" y="129.8" width="1.0" height="0.9" fill="#999"/>
<rect x="325.17" y="132.7" width="1.2" height="1.1" fill="#777"/>
<rect x="329.30" y="126.8" width="1.3" height="5.8" fill="#b8b8b8"/>
<rect x="329.45" y="127.6" width="1.0" height="0.9" fill="#909090"/>
<rect x="329.45" y="129.8" width="1.0" height="0.9" fill="#999"/>
<rect x="329.35" y="132.7" width="1.2" height="1.1" fill="#777"/>
<rect x="333.48" y="126.8" width="1.3" height="5.8" fill="#b8b8b8"/>
<rect x="333.63" y="127.6" width="1.0" height="0.9" fill="#909090"/>
<rect x="333.63" y="129.8" width="1.0" height="0.9" fill="#999"/>
<rect x="333.53" y="132.7" width="1.2" height="1.1" fill="#777"/>
<rect x="337.66" y="126.8" width="1.3" height="5.8" fill="#b8b8b8"/>
<rect x="337.81" y="127.6" width="1.0" height="0.9" fill="#909090"/>
<rect x="337.81" y="129.8" width="1.0" height="0.9" fill="#999"/>
<rect x="337.71" y="132.7" width="1.2" height="1.1" fill="#777"/>
<rect x="341.83" y="126.8" width="1.3" height="5.8" fill="#b8b8b8"/>
<rect x="341.98" y="127.6" width="1.0" height="0.9" fill="#909090"/>
<rect x="341.98" y="129.8" width="1.0" height="0.9" fill="#999"/>
<rect x="341.88" y="132.7" width="1.2" height="1.1" fill="#777"/>
<rect x="346.01" y="126.8" width="1.3" height="5.8" fill="#b8b8b8"/>
<rect x="346.16" y="127.6" width="1.0" height="0.9" fill="#909090"/>
<rect x="346.16" y="129.8" width="1.0" height="0.9" fill="#999"/>
<rect x="346.06" y="132.7" width="1.2" height="1.1" fill="#777"/>
<rect x="350.19" y="126.8" width="1.3" height="5.8" fill="#b8b8b8"/>
<rect x="350.34" y="127.6" width="1.0" height="0.9" fill="#909090"/>
<rect x="350.34" y="129.8" width="1.0" height="0.9" fill="#999"/>
<rect x="350.24" y="132.7" width="1.2" height="1.1" fill="#777"/>
<rect x="354.37" y="126.8" width="1.3" height="5.8" fill="#b8b8b8"/>
<rect x="354.52" y="127.6" width="1.0" height="0.9" fill="#909090"/>
<rect x="354.52" y="129.8" width="1.0" height="0.9" fill="#999"/>
<rect x="354.42" y="132.7" width="1.2" height="1.1" fill="#777"/>
<rect x="358.55" y="126.8" width="1.3" height="5.8" fill="#b8b8b8"/>
<rect x="358.70" y="127.6" width="1.0" height="0.9" fill="#909090"/>
<rect x="358.70" y="129.8" width="1.0" height="0.9" fill="#999"/>
<rect x="358.60" y="132.7" width="1.2" height="1.1" fill="#777"/>
<rect x="362.73" y="126.8" width="1.3" height="5.8" fill="#b8b8b8"/>
<rect x="362.88" y="127.6" width="1.0" height="0.9" fill="#909090"/>
<rect x="362.88" y="129.8" width="1.0" height="0.9" fill="#999"/>
<rect x="362.78" y="132.7" width="1.2" height="1.1" fill="#777"/>
<rect x="366.91" y="126.8" width="1.3" height="5.8" fill="#b8b8b8"/>
<rect x="367.06" y="127.6" width="1.0" height="0.9" fill="#909090"/>
<rect x="367.06" y="129.8" width="1.0" height="0.9" fill="#999"/>
<rect x="366.96" y="132.7" width="1.2" height="1.1" fill="#777"/>
<rect x="371.09" y="126.8" width="1.3" height="5.8" fill="#b8b8b8"/>
<rect x="371.24" y="127.6" width="1.0" height="0.9" fill="#909090"/>
<rect x="371.24" y="129.8" width="1.0" height="0.9" fill="#999"/>
<rect x="371.14" y="132.7" width="1.2" height="1.1" fill="#777"/>
<rect x="375.27" y="126.8" width="1.3" height="5.8" fill="#b8b8b8"/>
<rect x="375.42" y="127.6" width="1.0" height="0.9" fill="#909090"/>
<rect x="375.42" y="129.8" width="1.0" height="0.9" fill="#999"/>
<rect x="375.32" y="132.7" width="1.2" height="1.1" fill="#777"/>
<rect x="379.44" y="126.8" width="1.3" height="5.8" fill="#b8b8b8"/>
<rect x="379.59" y="127.6" width="1.0" height="0.9" fill="#909090"/>
<rect x="379.59" y="129.8" width="1.0" height="0.9" fill="#999"/>
<rect x="379.49" y="132.7" width="1.2" height="1.1" fill="#777"/>
<rect x="383.62" y="126.8" width="1.3" height="5.8" fill="#b8b8b8"/>
<rect x="383.77" y="127.6" width="1.0" height="0.9" fill="#909090"/>
<rect x="383.77" y="129.8" width="1.0" height="0.9" fill="#999"/>
<rect x="383.67" y="132.7" width="1.2" height="1.1" fill="#777"/>
<rect x="387.80" y="126.8" width="1.3" height="5.8" fill="#b8b8b8"/>
<rect x="387.95" y="127.6" width="1.0" height="0.9" fill="#909090"/>
<rect x="387.95" y="129.8" width="1.0" height="0.9" fill="#999"/>
<rect x="387.85" y="132.7" width="1.2" height="1.1" fill="#777"/>
<rect x="391.98" y="126.8" width="1.3" height="5.8" fill="#b8b8b8"/>
<rect x="392.13" y="127.6" width="1.0" height="0.9" fill="#909090"/>
<rect x="392.13" y="129.8" width="1.0" height="0.9" fill="#999"/>
<rect x="392.03" y="132.7" width="1.2" height="1.1" fill="#777"/>
<rect x="396.16" y="126.8" width="1.3" height="5.8" fill="#b8b8b8"/>
<rect x="396.31" y="127.6" width="1.0" height="0.9" fill="#909090"/>
<rect x="396.31" y="129.8" width="1.0" height="0.9" fill="#999"/>
<rect x="396.21" y="132.7" width="1.2" height="1.1" fill="#777"/>
<rect x="400.34" y="126.8" width="1.3" height="5.8" fill="#b8b8b8"/>
<rect x="400.49" y="127.6" width="1.0" height="0.9" fill="#909090"/>
<rect x="400.49" y="129.8" width="1.0" height="0.9" fill="#999"/>
<rect x="400.39" y="132.7" width="1.2" height="1.1" fill="#777"/>
<rect x="404.52" y="126.8" width="1.3" height="5.8" fill="#b8b8b8"/>
<rect x="404.67" y="127.6" width="1.0" height="0.9" fill="#909090"/>
<rect x="404.67" y="129.8" width="1.0" height="0.9" fill="#999"/>
<rect x="404.57" y="132.7" width="1.2" height="1.1" fill="#777"/>
<rect x="408.70" y="126.8" width="1.3" height="5.8" fill="#b8b8b8"/>
<rect x="408.85" y="127.6" width="1.0" height="0.9" fill="#909090"/>
<rect x="408.85" y="129.8" width="1.0" height="0.9" fill="#999"/>
<rect x="408.75" y="132.7" width="1.2" height="1.1" fill="#777"/>
<rect x="412.87" y="126.8" width="1.3" height="5.8" fill="#b8b8b8"/>
<rect x="413.02" y="127.6" width="1.0" height="0.9" fill="#909090"/>
<rect x="413.02" y="129.8" width="1.0" height="0.9" fill="#999"/>
<rect x="412.92" y="132.7" width="1.2" height="1.1" fill="#777"/>
<rect x="417.05" y="126.8" width="1.3" height="5.8" fill="#b8b8b8"/>
<rect x="417.20" y="127.6" width="1.0" height="0.9" fill="#909090"/>
<rect x="417.20" y="129.8" width="1.0" height="0.9" fill="#999"/>
<rect x="417.10" y="132.7" width="1.2" height="1.1" fill="#777"/>
<rect x="421.23" y="126.8" width="1.3" height="5.8" fill="#b8b8b8"/>
<rect x="421.38" y="127.6" width="1.0" height="0.9" fill="#909090"/>
<rect x="421.38" y="129.8" width="1.0" height="0.9" fill="#999"/>
<rect x="421.28" y="132.7" width="1.2" height="1.1" fill="#777"/>
<rect x="425.41" y="126.8" width="1.3" height="5.8" fill="#b8b8b8"/>
<rect x="425.56" y="127.6" width="1.0" height="0.9" fill="#909090"/>
<rect x="425.56" y="129.8" width="1.0" height="0.9" fill="#999"/>
<rect x="425.46" y="132.7" width="1.2" height="1.1" fill="#777"/>
<rect x="429.59" y="126.8" width="1.3" height="5.8" fill="#b8b8b8"/>
<rect x="429.74" y="127.6" width="1.0" height="0.9" fill="#909090"/>
<rect x="429.74" y="129.8" width="1.0" height="0.9" fill="#999"/>
<rect x="429.64" y="132.7" width="1.2" height="1.1" fill="#777"/>
<rect x="433.77" y="126.8" width="1.3" height="5.8" fill="#b8b8b8"/>
<rect x="433.92" y="127.6" width="1.0" height="0.9" fill="#909090"/>
<rect x="433.92" y="129.8" width="1.0" height="0.9" fill="#999"/>
<rect x="433.82" y="132.7" width="1.2" height="1.1" fill="#777"/>
<rect x="437.95" y="126.8" width="1.3" height="5.8" fill="#b8b8b8"/>
<rect x="438.10" y="127.6" width="1.0" height="0.9" fill="#909090"/>
<rect x="438.10" y="129.8" width="1.0" height="0.9" fill="#999"/>
<rect x="438.00" y="132.7" width="1.2" height="1.1" fill="#777"/>
<rect x="442.13" y="126.8" width="1.3" height="5.8" fill="#b8b8b8"/>
<rect x="442.28" y="127.6" width="1.0" height="0.9" fill="#909090"/>
<rect x="442.28" y="129.8" width="1.0" height="0.9" fill="#999"/>
<rect x="442.18" y="132.7" width="1.2" height="1.1" fill="#777"/>
<rect x="446.30" y="126.8" width="1.3" height="5.8" fill="#b8b8b8"/>
<rect x="446.45" y="127.6" width="1.0" height="0.9" fill="#909090"/>
<rect x="446.45" y="129.8" width="1.0" height="0.9" fill="#999"/>
<rect x="446.35" y="132.7" width="1.2" height="1.1" fill="#777"/>
<rect x="450.48" y="126.8" width="1.3" height="5.8" fill="#b8b8b8"/>
<rect x="450.63" y="127.6" width="1.0" height="0.9" fill="#909090"/>
<rect x="450.63" y="129.8" width="1.0" height="0.9" fill="#999"/>
<rect x="450.53" y="132.7" width="1.2" height="1.1" fill="#777"/>
<rect x="454.66" y="126.8" width="1.3" height="5.8" fill="#b8b8b8"/>
<rect x="454.81" y="127.6" width="1.0" height="0.9" fill="#909090"/>
<rect x="454.81" y="129.8" width="1.0" height="0.9" fill="#999"/>
<rect x="454.71" y="132.7" width="1.2" height="1.1" fill="#777"/>
<rect x="458.84" y="126.8" width="1.3" height="5.8" fill="#b8b8b8"/>
<rect x="458.99" y="127.6" width="1.0" height="0.9" fill="#909090"/>
<rect x="458.99" y="129.8" width="1.0" height="0.9" fill="#999"/>
<rect x="458.89" y="132.7" width="1.2" height="1.1" fill="#777"/>
<rect x="463.02" y="126.8" width="1.3" height="5.8" fill="#b8b8b8"/>
<rect x="463.17" y="127.6" width="1.0" height="0.9" fill="#909090"/>
<rect x="463.17" y="129.8" width="1.0" height="0.9" fill="#999"/>
<rect x="463.07" y="132.7" width="1.2" height="1.1" fill="#777"/>
<rect x="467.20" y="126.8" width="1.3" height="5.8" fill="#b8b8b8"/>
<rect x="467.35" y="127.6" width="1.0" height="0.9" fill="#909090"/>
<rect x="467.35" y="129.8" width="1.0" height="0.9" fill="#999"/>
<rect x="467.25" y="132.7" width="1.2" height="1.1" fill="#777"/>
<rect x="471.38" y="126.8" width="1.3" height="5.8" fill="#b8b8b8"/>
<rect x="471.53" y="127.6" width="1.0" height="0.9" fill="#909090"/>
<rect x="471.53" y="129.8" width="1.0" height="0.9" fill="#999"/>
<rect x="471.43" y="132.7" width="1.2" height="1.1" fill="#777"/>
<rect x="475.56" y="126.8" width="1.3" height="5.8" fill="#b8b8b8"/>
<rect x="475.71" y="127.6" width="1.0" height="0.9" fill="#909090"/>
<rect x="475.71" y="129.8" width="1.0" height="0.9" fill="#999"/>
<rect x="475.61" y="132.7" width="1.2" height="1.1" fill="#777"/>
<rect x="479.73" y="126.8" width="1.3" height="5.8" fill="#b8b8b8"/>
<rect x="479.88" y="127.6" width="1.0" height="0.9" fill="#909090"/>
<rect x="479.88" y="129.8" width="1.0" height="0.9" fill="#999"/>
<rect x="479.78" y="132.7" width="1.2" height="1.1" fill="#777"/>
<rect x="483.91" y="126.8" width="1.3" height="5.8" fill="#b8b8b8"/>
<rect x="484.06" y="127.6" width="1.0" height="0.9" fill="#909090"/>
<rect x="484.06" y="129.8" width="1.0" height="0.9" fill="#999"/>
<rect x="483.96" y="132.7" width="1.2" height="1.1" fill="#777"/>
<rect x="488.09" y="126.8" width="1.3" height="5.8" fill="#b8b8b8"/>
<rect x="488.24" y="127.6" width="1.0" height="0.9" fill="#909090"/>
<rect x="488.24" y="129.8" width="1.0" height="0.9" fill="#999"/>
<rect x="488.14" y="132.7" width="1.2" height="1.1" fill="#777"/>
<rect x="492.27" y="126.8" width="1.3" height="5.8" fill="#b8b8b8"/>
<rect x="492.42" y="127.6" width="1.0" height="0.9" fill="#909090"/>
<rect x="492.42" y="129.8" width="1.0" height="0.9" fill="#999"/>
<rect x="492.32" y="132.7" width="1.2" height="1.1" fill="#777"/>
<rect x="496.45" y="126.8" width="1.3" height="5.8" fill="#b8b8b8"/>
<rect x="496.60" y="127.6" width="1.0" height="0.9" fill="#909090"/>
<rect x="496.60" y="129.8" width="1.0" height="0.9" fill="#999"/>
<rect x="496.50" y="132.7" width="1.2" height="1.1" fill="#777"/>
<line x1="219.00" y1="135.70" x2="498.00" y2="135.70" stroke="#eee" stroke-width="0.5" />
<text x="349.40" y="139.00" font-size="3.9" text-anchor="start" font-weight="normal" fill="#000" textLength="21.3" lengthAdjust="spacingAndGlyphs" font-family='"Liberation Serif", serif'>NMR buckets</text>
<line x1="221.90" y1="27.00" x2="221.90" y2="53.00" stroke="#000" stroke-width="1.3" />
<polygon points="221.9,20.3 218.8,28.4 225.0,28.4" fill="#000"/>
<line x1="221.90" y1="61.80" x2="221.90" y2="88.00" stroke="#000" stroke-width="1.3" />
<polygon points="221.9,94.8 218.8,86.8 225.0,86.8" fill="#000"/>
<text transform="translate(231.70,36.50) rotate(-90)" x="0" y="2.27" font-size="6.3" text-anchor="middle" fill="#000" textLength="23.6" lengthAdjust="spacingAndGlyphs">IDH mut</text>
<text transform="translate(231.70,78.30) rotate(-90)" x="0" y="2.27" font-size="6.3" text-anchor="middle" fill="#000" textLength="19.8" lengthAdjust="spacingAndGlyphs">IDH wt</text>
<line x1="220.70" y1="57.00" x2="499.00" y2="57.00" stroke="#e2e2e2" stroke-width="0.8" />
<line x1="220.70" y1="57.00" x2="221.91" y2="57.01" stroke="#90c8cc" stroke-width="0.95" stroke-linecap="round"/>
<line x1="221.91" y1="57.01" x2="223.11" y2="57.02" stroke="#90c8cc" stroke-width="0.95" stroke-linecap="round"/>
<line x1="223.11" y1="57.02" x2="224.32" y2="57.04" stroke="#90c8cc" stroke-width="0.95" stroke-linecap="round"/>
<line x1="224.32" y1="57.04" x2="225.52" y2="57.05" stroke="#90c8cc" stroke-width="0.95" stroke-linecap="round"/>
<line x1="225.52" y1="57.05" x2="226.73" y2="57.06" stroke="#90c8cc" stroke-width="0.95" stroke-linecap="round"/>
<line x1="226.73" y1="57.06" x2="227.94" y2="57.08" stroke="#90c8cc" stroke-width="0.95" stroke-linecap="round"/>
<line x1="227.94" y1="57.08" x2="229.14" y2="57.09" stroke="#90c8cc" stroke-width="0.95" stroke-linecap="round"/>
<line x1="229.14" y1="57.09" x2="230.35" y2="57.10" stroke="#90c8cc" stroke-width="0.95" stroke-linecap="round"/>
<line x1="230.35" y1="57.10" x2="231.56" y2="57.11" stroke="#90c8cc" stroke-width="0.95" stroke-linecap="round"/>
<line x1="231.56" y1="57.11" x2="232.76" y2="57.12" stroke="#90c8cc" stroke-width="0.95" stroke-linecap="round"/>
<line x1="232.76" y1="57.12" x2="233.97" y2="57.14" stroke="#90c8cc" stroke-width="0.95" stroke-linecap="round"/>
<line x1="233.97" y1="57.14" x2="235.18" y2="57.15" stroke="#90c8cc" stroke-width="0.95" stroke-linecap="round"/>
<line x1="235.18" y1="57.15" x2="236.38" y2="57.16" stroke="#90c8cc" stroke-width="0.95" stroke-linecap="round"/>
<line x1="236.38" y1="57.16" x2="237.59" y2="57.18" stroke="#90c8cc" stroke-width="0.95" stroke-linecap="round"/>
<line x1="237.59" y1="57.18" x2="238.79" y2="57.19" stroke="#90c8cc" stroke-width="0.95" stroke-linecap="round"/>
<line x1="238.79" y1="57.19" x2="240.00" y2="57.20" stroke="#90c8cc" stroke-width="0.95" stroke-linecap="round"/>
<line x1="240.00" y1="57.20" x2="241.35" y2="57.70" stroke="#90c8cc" stroke-width="0.95" stroke-linecap="round"/>
<line x1="241.35" y1="57.70" x2="242.70" y2="58.20" stroke="#84c2aa" stroke-width="0.95" stroke-linecap="round"/>
<line x1="242.70" y1="58.20" x2="244.50" y2="57.00" stroke="#81beb4" stroke-width="0.95" stroke-linecap="round"/>
<line x1="244.50" y1="57.00" x2="245.75" y2="56.95" stroke="#90c8cc" stroke-width="0.95" stroke-linecap="round"/>
<line x1="245.75" y1="56.95" x2="247.00" y2="56.90" stroke="#90c8cc" stroke-width="0.95" stroke-linecap="round"/>
<line x1="247.00" y1="56.90" x2="248.25" y2="56.85" stroke="#90c8cc" stroke-width="0.95" stroke-linecap="round"/>
<line x1="248.25" y1="56.85" x2="249.50" y2="56.80" stroke="#90c8cc" stroke-width="0.95" stroke-linecap="round"/>
<line x1="249.50" y1="56.80" x2="250.75" y2="56.75" stroke="#90c8cc" stroke-width="0.95" stroke-linecap="round"/>
<line x1="250.75" y1="56.75" x2="252.00" y2="56.70" stroke="#90c8cc" stroke-width="0.95" stroke-linecap="round"/>
<line x1="252.00" y1="56.70" x2="253.25" y2="56.76" stroke="#90c8cc" stroke-width="0.95" stroke-linecap="round"/>
<line x1="253.25" y1="56.76" x2="254.50" y2="56.83" stroke="#90c8cc" stroke-width="0.95" stroke-linecap="round"/>
<line x1="254.50" y1="56.83" x2="255.75" y2="56.89" stroke="#90c8cc" stroke-width="0.95" stroke-linecap="round"/>
<line x1="255.75" y1="56.89" x2="257.00" y2="56.95" stroke="#90c8cc" stroke-width="0.95" stroke-linecap="round"/>
<line x1="257.00" y1="56.95" x2="258.25" y2="57.01" stroke="#90c8cc" stroke-width="0.95" stroke-linecap="round"/>
<line x1="258.25" y1="57.01" x2="259.50" y2="57.08" stroke="#90c8cc" stroke-width="0.95" stroke-linecap="round"/>
<line x1="259.50" y1="57.08" x2="260.75" y2="57.14" stroke="#90c8cc" stroke-width="0.95" stroke-linecap="round"/>
<line x1="260.75" y1="57.14" x2="262.00" y2="57.20" stroke="#90c8cc" stroke-width="0.95" stroke-linecap="round"/>
<line x1="262.00" y1="57.20" x2="263.30" y2="57.16" stroke="#90c8cc" stroke-width="0.95" stroke-linecap="round"/>
<line x1="263.30" y1="57.16" x2="264.60" y2="57.12" stroke="#90c8cc" stroke-width="0.95" stroke-linecap="round"/>
<line x1="264.60" y1="57.12" x2="265.90" y2="57.08" stroke="#90c8cc" stroke-width="0.95" stroke-linecap="round"/>
<line x1="265.90" y1="57.08" x2="267.20" y2="57.04" stroke="#90c8cc" stroke-width="0.95" stroke-linecap="round"/>
<line x1="267.20" y1="57.04" x2="268.50" y2="57.00" stroke="#90c8cc" stroke-width="0.95" stroke-linecap="round"/>
<line x1="268.50" y1="57.00" x2="269.27" y2="57.95" stroke="#65b09f" stroke-width="0.95" stroke-linecap="round"/>
<line x1="269.27" y1="57.95" x2="270.05" y2="58.90" stroke="#6dbc87" stroke-width="0.95" stroke-linecap="round"/>
<line x1="270.05" y1="58.90" x2="270.83" y2="59.85" stroke="#7fc86f" stroke-width="0.95" stroke-linecap="round"/>
<line x1="270.83" y1="59.85" x2="271.60" y2="60.80" stroke="#97cf65" stroke-width="0.95" stroke-linecap="round"/>
<line x1="271.60" y1="60.80" x2="272.40" y2="59.53" stroke="#93cf67" stroke-width="0.95" stroke-linecap="round"/>
<line x1="272.40" y1="59.53" x2="273.20" y2="58.27" stroke="#76c37b" stroke-width="0.95" stroke-linecap="round"/>
<line x1="273.20" y1="58.27" x2="274.00" y2="57.00" stroke="#67b39b" stroke-width="0.95" stroke-linecap="round"/>
<line x1="274.00" y1="57.00" x2="275.43" y2="56.90" stroke="#90c8cc" stroke-width="0.95" stroke-linecap="round"/>
<line x1="275.43" y1="56.90" x2="276.87" y2="56.80" stroke="#81beb4" stroke-width="0.95" stroke-linecap="round"/>
<line x1="276.87" y1="56.80" x2="278.30" y2="56.70" stroke="#82bfaf" stroke-width="0.95" stroke-linecap="round"/>
<line x1="278.30" y1="56.70" x2="278.46" y2="55.44" stroke="#67b595" stroke-width="0.95" stroke-linecap="round"/>
<line x1="278.46" y1="55.44" x2="278.62" y2="54.18" stroke="#6bbb8a" stroke-width="0.95" stroke-linecap="round"/>
<line x1="278.62" y1="54.18" x2="278.78" y2="52.92" stroke="#73c07f" stroke-width="0.95" stroke-linecap="round"/>
<line x1="278.78" y1="52.92" x2="278.94" y2="51.66" stroke="#7bc574" stroke-width="0.95" stroke-linecap="round"/>
<line x1="278.94" y1="51.66" x2="279.10" y2="50.40" stroke="#83cb6a" stroke-width="0.95" stroke-linecap="round"/>
<line x1="279.10" y1="50.40" x2="279.14" y2="51.69" stroke="#82ca6b" stroke-width="0.95" stroke-linecap="round"/>
<line x1="279.14" y1="51.69" x2="279.19" y2="52.98" stroke="#78c377" stroke-width="0.95" stroke-linecap="round"/>
<line x1="279.19" y1="52.98" x2="279.23" y2="54.27" stroke="#6fbd85" stroke-width="0.95" stroke-linecap="round"/>
<line x1="279.23" y1="54.27" x2="279.28" y2="55.56" stroke="#68b792" stroke-width="0.95" stroke-linecap="round"/>
<line x1="279.28" y1="55.56" x2="279.32" y2="56.84" stroke="#65b09f" stroke-width="0.95" stroke-linecap="round"/>
<line x1="279.32" y1="56.84" x2="279.37" y2="58.13" stroke="#62a9ab" stroke-width="0.95" stroke-linecap="round"/>
<line x1="279.37" y1="58.13" x2="279.41" y2="59.42" stroke="#5f9fb2" stroke-width="0.95" stroke-linecap="round"/>
<line x1="279.41" y1="59.42" x2="279.46" y2="60.71" stroke="#5b95b8" stroke-width="0.95" stroke-linecap="round"/>
<line x1="279.46" y1="60.71" x2="279.50" y2="62.00" stroke="#5889b8" stroke-width="0.95" stroke-linecap="round"/>
<line x1="279.50" y1="62.00" x2="279.73" y2="60.50" stroke="#5a8fba" stroke-width="0.95" stroke-linecap="round"/>
<line x1="279.73" y1="60.50" x2="279.97" y2="59.00" stroke="#60a4af" stroke-width="0.95" stroke-linecap="round"/>
<line x1="279.97" y1="59.00" x2="280.20" y2="57.50" stroke="#67b397" stroke-width="0.95" stroke-linecap="round"/>
<line x1="280.20" y1="57.50" x2="280.26" y2="56.19" stroke="#6fbd84" stroke-width="0.95" stroke-linecap="round"/>
<line x1="280.26" y1="56.19" x2="280.32" y2="54.88" stroke="#77c378" stroke-width="0.95" stroke-linecap="round"/>
<line x1="280.32" y1="54.88" x2="280.39" y2="53.56" stroke="#81c96c" stroke-width="0.95" stroke-linecap="round"/>
<line x1="280.39" y1="53.56" x2="280.45" y2="52.25" stroke="#8ccd67" stroke-width="0.95" stroke-linecap="round"/>
<line x1="280.45" y1="52.25" x2="280.51" y2="50.94" stroke="#98cf65" stroke-width="0.95" stroke-linecap="round"/>
<line x1="280.51" y1="50.94" x2="280.57" y2="49.62" stroke="#8ec83c" stroke-width="0.95" stroke-linecap="round"/>
<line x1="280.57" y1="49.62" x2="280.64" y2="48.31" stroke="#9dca3c" stroke-width="0.95" stroke-linecap="round"/>
<line x1="280.64" y1="48.31" x2="280.70" y2="47.00" stroke="#accc3c" stroke-width="0.95" stroke-linecap="round"/>
<line x1="280.70" y1="47.00" x2="280.78" y2="45.63" stroke="#bfc83a" stroke-width="1.3" stroke-linecap="round"/>
<line x1="280.78" y1="45.63" x2="280.87" y2="44.27" stroke="#d7be37" stroke-width="1.3" stroke-linecap="round"/>
<line x1="280.87" y1="44.27" x2="280.95" y2="42.90" stroke="#da9c30" stroke-width="1.3" stroke-linecap="round"/>
<line x1="280.95" y1="42.90" x2="281.03" y2="41.53" stroke="#d87b29" stroke-width="1.3" stroke-linecap="round"/>
<line x1="281.03" y1="41.53" x2="281.12" y2="40.17" stroke="#d25a23" stroke-width="1.3" stroke-linecap="round"/>
<line x1="281.12" y1="40.17" x2="281.20" y2="38.80" stroke="#c4351f" stroke-width="1.3" stroke-linecap="round"/>
<line x1="281.20" y1="38.80" x2="282.20" y2="39.20" stroke="#c3301f" stroke-width="1.3" stroke-linecap="round"/>
<line x1="282.20" y1="39.20" x2="282.27" y2="40.46" stroke="#cb4721" stroke-width="1.3" stroke-linecap="round"/>
<line x1="282.27" y1="40.46" x2="282.34" y2="41.71" stroke="#d15922" stroke-width="1.3" stroke-linecap="round"/>
<line x1="282.34" y1="41.71" x2="282.41" y2="42.97" stroke="#d56a26" stroke-width="1.3" stroke-linecap="round"/>
<line x1="282.41" y1="42.97" x2="282.49" y2="44.23" stroke="#d87a29" stroke-width="1.3" stroke-linecap="round"/>
<line x1="282.49" y1="44.23" x2="282.56" y2="45.49" stroke="#db8a2c" stroke-width="1.3" stroke-linecap="round"/>
<line x1="282.56" y1="45.49" x2="282.63" y2="46.74" stroke="#da9b30" stroke-width="1.3" stroke-linecap="round"/>
<line x1="282.63" y1="46.74" x2="282.70" y2="48.00" stroke="#d8ab33" stroke-width="1.3" stroke-linecap="round"/>
<line x1="282.70" y1="48.00" x2="282.82" y2="49.33" stroke="#d7bd36" stroke-width="1.3" stroke-linecap="round"/>
<line x1="282.82" y1="49.33" x2="282.93" y2="50.67" stroke="#cac338" stroke-width="1.3" stroke-linecap="round"/>
<line x1="282.93" y1="50.67" x2="283.05" y2="52.00" stroke="#bdc83a" stroke-width="1.3" stroke-linecap="round"/>
<line x1="283.05" y1="52.00" x2="283.17" y2="53.33" stroke="#b0cc3c" stroke-width="0.95" stroke-linecap="round"/>
<line x1="283.17" y1="53.33" x2="283.28" y2="54.67" stroke="#a1ca3c" stroke-width="0.95" stroke-linecap="round"/>
<line x1="283.28" y1="54.67" x2="283.40" y2="56.00" stroke="#93c83c" stroke-width="0.95" stroke-linecap="round"/>
<line x1="283.40" y1="56.00" x2="283.52" y2="57.20" stroke="#a1d263" stroke-width="0.95" stroke-linecap="round"/>
<line x1="283.52" y1="57.20" x2="283.65" y2="58.40" stroke="#9ed163" stroke-width="0.95" stroke-linecap="round"/>
<line x1="283.65" y1="58.40" x2="283.77" y2="59.60" stroke="#9bd064" stroke-width="0.95" stroke-linecap="round"/>
<line x1="283.77" y1="59.60" x2="283.90" y2="60.80" stroke="#97cf65" stroke-width="0.95" stroke-linecap="round"/>
<line x1="283.90" y1="60.80" x2="284.02" y2="62.00" stroke="#93cf66" stroke-width="0.95" stroke-linecap="round"/>
<line x1="284.02" y1="62.00" x2="284.15" y2="63.20" stroke="#91ce67" stroke-width="0.95" stroke-linecap="round"/>
<line x1="284.15" y1="63.20" x2="284.27" y2="64.40" stroke="#8ecd67" stroke-width="0.95" stroke-linecap="round"/>
<line x1="284.27" y1="64.40" x2="284.40" y2="65.60" stroke="#8acc68" stroke-width="0.95" stroke-linecap="round"/>
<line x1="284.40" y1="65.60" x2="284.65" y2="64.20" stroke="#83cb6a" stroke-width="0.95" stroke-linecap="round"/>
<line x1="284.65" y1="64.20" x2="284.90" y2="62.80" stroke="#7cc773" stroke-width="0.95" stroke-linecap="round"/>
<line x1="284.90" y1="62.80" x2="285.15" y2="61.40" stroke="#75c27c" stroke-width="0.95" stroke-linecap="round"/>
<line x1="285.15" y1="61.40" x2="285.40" y2="60.00" stroke="#6ebd86" stroke-width="0.95" stroke-linecap="round"/>
<line x1="285.40" y1="60.00" x2="285.70" y2="58.50" stroke="#68b792" stroke-width="0.95" stroke-linecap="round"/>
<line x1="285.70" y1="58.50" x2="286.00" y2="57.00" stroke="#64afa3" stroke-width="0.95" stroke-linecap="round"/>
<line x1="286.00" y1="57.00" x2="287.20" y2="57.00" stroke="#90c8cc" stroke-width="0.95" stroke-linecap="round"/>
<line x1="287.20" y1="57.00" x2="288.40" y2="57.00" stroke="#90c8cc" stroke-width="0.95" stroke-linecap="round"/>
<line x1="288.40" y1="57.00" x2="289.60" y2="57.00" stroke="#90c8cc" stroke-width="0.95" stroke-linecap="round"/>
<line x1="289.60" y1="57.00" x2="290.80" y2="57.00" stroke="#90c8cc" stroke-width="0.95" stroke-linecap="round"/>
<line x1="290.80" y1="57.00" x2="292.00" y2="57.00" stroke="#90c8cc" stroke-width="0.95" stroke-linecap="round"/>
<line x1="292.00" y1="57.00" x2="293.20" y2="57.07" stroke="#90c8cc" stroke-width="0.95" stroke-linecap="round"/>
<line x1="293.20" y1="57.07" x2="294.40" y2="57.13" stroke="#90c8cc" stroke-width="0.95" stroke-linecap="round"/>
<line x1="294.40" y1="57.13" x2="295.60" y2="57.20" stroke="#82beb1" stroke-width="0.95" stroke-linecap="round"/>
<line x1="295.60" y1="57.20" x2="295.94" y2="58.40" stroke="#68b694" stroke-width="0.95" stroke-linecap="round"/>
<line x1="295.94" y1="58.40" x2="296.28" y2="59.60" stroke="#6dbc87" stroke-width="0.95" stroke-linecap="round"/>
<line x1="296.28" y1="59.60" x2="296.62" y2="60.80" stroke="#76c37b" stroke-width="0.95" stroke-linecap="round"/>
<line x1="296.62" y1="60.80" x2="296.96" y2="62.00" stroke="#80c96e" stroke-width="0.95" stroke-linecap="round"/>
<line x1="296.96" y1="62.00" x2="297.30" y2="63.20" stroke="#8ccd68" stroke-width="0.95" stroke-linecap="round"/>
<line x1="297.30" y1="63.20" x2="297.64" y2="61.96" stroke="#8bcd68" stroke-width="0.95" stroke-linecap="round"/>
<line x1="297.64" y1="61.96" x2="297.98" y2="60.72" stroke="#80c96e" stroke-width="0.95" stroke-linecap="round"/>
<line x1="297.98" y1="60.72" x2="298.32" y2="59.48" stroke="#76c37b" stroke-width="0.95" stroke-linecap="round"/>
<line x1="298.32" y1="59.48" x2="298.66" y2="58.24" stroke="#6dbc87" stroke-width="0.95" stroke-linecap="round"/>
<line x1="298.66" y1="58.24" x2="299.00" y2="57.00" stroke="#68b694" stroke-width="0.95" stroke-linecap="round"/>
<line x1="299.00" y1="57.00" x2="300.50" y2="58.80" stroke="#5fa2b0" stroke-width="0.95" stroke-linecap="round"/>
<line x1="300.50" y1="58.80" x2="301.60" y2="57.00" stroke="#5b96b8" stroke-width="0.95" stroke-linecap="round"/>
<line x1="301.60" y1="57.00" x2="301.90" y2="58.30" stroke="#5fa2b0" stroke-width="0.95" stroke-linecap="round"/>
<line x1="301.90" y1="58.30" x2="302.20" y2="59.60" stroke="#62a8ab" stroke-width="0.95" stroke-linecap="round"/>
<line x1="302.20" y1="59.60" x2="302.50" y2="60.90" stroke="#64aea3" stroke-width="0.95" stroke-linecap="round"/>
<line x1="302.50" y1="60.90" x2="302.80" y2="62.20" stroke="#66b29b" stroke-width="0.95" stroke-linecap="round"/>
<line x1="302.80" y1="62.20" x2="303.10" y2="63.50" stroke="#68b792" stroke-width="0.95" stroke-linecap="round"/>
<line x1="303.10" y1="63.50" x2="303.40" y2="64.80" stroke="#6bbb88" stroke-width="0.95" stroke-linecap="round"/>
<line x1="303.40" y1="64.80" x2="303.64" y2="63.44" stroke="#6cbb87" stroke-width="0.95" stroke-linecap="round"/>
<line x1="303.64" y1="63.44" x2="303.88" y2="62.08" stroke="#69b78f" stroke-width="0.95" stroke-linecap="round"/>
<line x1="303.88" y1="62.08" x2="304.12" y2="60.72" stroke="#67b497" stroke-width="0.95" stroke-linecap="round"/>
<line x1="304.12" y1="60.72" x2="304.36" y2="59.36" stroke="#65b09f" stroke-width="0.95" stroke-linecap="round"/>
<line x1="304.36" y1="59.36" x2="304.60" y2="58.00" stroke="#63aca7" stroke-width="0.95" stroke-linecap="round"/>
<line x1="304.60" y1="58.00" x2="305.70" y2="60.00" stroke="#64afa3" stroke-width="0.95" stroke-linecap="round"/>
<line x1="305.70" y1="60.00" x2="306.70" y2="58.00" stroke="#63abab" stroke-width="0.95" stroke-linecap="round"/>
<line x1="306.70" y1="58.00" x2="307.80" y2="59.20" stroke="#5b93ba" stroke-width="0.95" stroke-linecap="round"/>
<line x1="307.80" y1="59.20" x2="308.65" y2="58.35" stroke="#598db9" stroke-width="0.95" stroke-linecap="round"/>
<line x1="308.65" y1="58.35" x2="309.50" y2="57.50" stroke="#5c99b6" stroke-width="0.95" stroke-linecap="round"/>
<line x1="309.50" y1="57.50" x2="310.50" y2="56.50" stroke="#90c8cc" stroke-width="0.95" stroke-linecap="round"/>
<line x1="310.50" y1="56.50" x2="310.86" y2="55.30" stroke="#68b694" stroke-width="0.95" stroke-linecap="round"/>
<line x1="310.86" y1="55.30" x2="311.22" y2="54.10" stroke="#6dbc87" stroke-width="0.95" stroke-linecap="round"/>
<line x1="311.22" y1="54.10" x2="311.58" y2="52.90" stroke="#76c37b" stroke-width="0.95" stroke-linecap="round"/>
<line x1="311.58" y1="52.90" x2="311.94" y2="51.70" stroke="#80c96e" stroke-width="0.95" stroke-linecap="round"/>
<line x1="311.94" y1="51.70" x2="312.30" y2="50.50" stroke="#8ccd68" stroke-width="0.95" stroke-linecap="round"/>
<line x1="312.30" y1="50.50" x2="312.56" y2="51.80" stroke="#8bcd68" stroke-width="0.95" stroke-linecap="round"/>
<line x1="312.56" y1="51.80" x2="312.82" y2="53.10" stroke="#80c96e" stroke-width="0.95" stroke-linecap="round"/>
<line x1="312.82" y1="53.10" x2="313.08" y2="54.40" stroke="#76c37b" stroke-width="0.95" stroke-linecap="round"/>
<line x1="313.08" y1="54.40" x2="313.34" y2="55.70" stroke="#6dbc87" stroke-width="0.95" stroke-linecap="round"/>
<line x1="313.34" y1="55.70" x2="313.60" y2="57.00" stroke="#68b694" stroke-width="0.95" stroke-linecap="round"/>
<line x1="313.60" y1="57.00" x2="315.10" y2="57.00" stroke="#83c1ad" stroke-width="0.95" stroke-linecap="round"/>
<line x1="315.10" y1="57.00" x2="316.60" y2="57.00" stroke="#83c1ad" stroke-width="0.95" stroke-linecap="round"/>
<line x1="316.60" y1="57.00" x2="316.80" y2="55.78" stroke="#67b595" stroke-width="0.95" stroke-linecap="round"/>
<line x1="316.80" y1="55.78" x2="317.00" y2="54.57" stroke="#6bbb8b" stroke-width="0.95" stroke-linecap="round"/>
<line x1="317.00" y1="54.57" x2="317.20" y2="53.35" stroke="#73bf7f" stroke-width="0.95" stroke-linecap="round"/>
<line x1="317.20" y1="53.35" x2="317.40" y2="52.13" stroke="#7ac575" stroke-width="0.95" stroke-linecap="round"/>
<line x1="317.40" y1="52.13" x2="317.60" y2="50.92" stroke="#83cb6b" stroke-width="0.95" stroke-linecap="round"/>
<line x1="317.60" y1="50.92" x2="317.80" y2="49.70" stroke="#8dcd67" stroke-width="0.95" stroke-linecap="round"/>
<line x1="317.80" y1="49.70" x2="317.98" y2="50.92" stroke="#8dcd67" stroke-width="0.95" stroke-linecap="round"/>
<line x1="317.98" y1="50.92" x2="318.17" y2="52.13" stroke="#83cb6b" stroke-width="0.95" stroke-linecap="round"/>
<line x1="318.17" y1="52.13" x2="318.35" y2="53.35" stroke="#7bc575" stroke-width="0.95" stroke-linecap="round"/>
<line x1="318.35" y1="53.35" x2="318.53" y2="54.57" stroke="#73bf7f" stroke-width="0.95" stroke-linecap="round"/>
<line x1="318.53" y1="54.57" x2="318.72" y2="55.78" stroke="#6bbb8b" stroke-width="0.95" stroke-linecap="round"/>
<line x1="318.72" y1="55.78" x2="318.90" y2="57.00" stroke="#67b595" stroke-width="0.95" stroke-linecap="round"/>
<line x1="318.90" y1="57.00" x2="321.20" y2="57.00" stroke="#81beb4" stroke-width="0.95" stroke-linecap="round"/>
<line x1="321.20" y1="57.00" x2="321.52" y2="55.80" stroke="#63aca7" stroke-width="0.95" stroke-linecap="round"/>
<line x1="321.52" y1="55.80" x2="321.85" y2="54.60" stroke="#65b09f" stroke-width="0.95" stroke-linecap="round"/>
<line x1="321.85" y1="54.60" x2="322.18" y2="53.40" stroke="#67b497" stroke-width="0.95" stroke-linecap="round"/>
<line x1="322.18" y1="53.40" x2="322.50" y2="52.20" stroke="#69b88f" stroke-width="0.95" stroke-linecap="round"/>
<line x1="322.50" y1="52.20" x2="322.77" y2="53.40" stroke="#69b790" stroke-width="0.95" stroke-linecap="round"/>
<line x1="322.77" y1="53.40" x2="323.05" y2="54.60" stroke="#66b19c" stroke-width="0.95" stroke-linecap="round"/>
<line x1="323.05" y1="54.60" x2="323.33" y2="55.80" stroke="#63aba8" stroke-width="0.95" stroke-linecap="round"/>
<line x1="323.33" y1="55.80" x2="323.60" y2="57.00" stroke="#5fa3af" stroke-width="0.95" stroke-linecap="round"/>
<line x1="323.60" y1="57.00" x2="324.60" y2="59.00" stroke="#5b93ba" stroke-width="0.95" stroke-linecap="round"/>
<line x1="324.60" y1="59.00" x2="324.80" y2="60.50" stroke="#598db9" stroke-width="0.95" stroke-linecap="round"/>
<line x1="324.80" y1="60.50" x2="325.00" y2="62.00" stroke="#5c99b6" stroke-width="0.95" stroke-linecap="round"/>
<line x1="325.00" y1="62.00" x2="325.08" y2="63.40" stroke="#5fa2b0" stroke-width="0.95" stroke-linecap="round"/>
<line x1="325.08" y1="63.40" x2="325.16" y2="64.80" stroke="#62a9ab" stroke-width="0.95" stroke-linecap="round"/>
<line x1="325.16" y1="64.80" x2="325.24" y2="66.20" stroke="#64afa3" stroke-width="0.95" stroke-linecap="round"/>
<line x1="325.24" y1="66.20" x2="325.32" y2="67.60" stroke="#67b399" stroke-width="0.95" stroke-linecap="round"/>
<line x1="325.32" y1="67.60" x2="325.40" y2="69.00" stroke="#69b88f" stroke-width="0.95" stroke-linecap="round"/>
<line x1="325.40" y1="69.00" x2="325.41" y2="70.22" stroke="#7dc398" stroke-width="0.95" stroke-linecap="round"/>
<line x1="325.41" y1="70.22" x2="325.42" y2="71.45" stroke="#7ec496" stroke-width="0.95" stroke-linecap="round"/>
<line x1="325.42" y1="71.45" x2="325.43" y2="72.67" stroke="#80c495" stroke-width="0.95" stroke-linecap="round"/>
<line x1="325.43" y1="72.67" x2="325.44" y2="73.90" stroke="#81c593" stroke-width="0.95" stroke-linecap="round"/>
<line x1="325.44" y1="73.90" x2="325.45" y2="75.12" stroke="#82c692" stroke-width="0.95" stroke-linecap="round"/>
<line x1="325.45" y1="75.12" x2="325.46" y2="76.35" stroke="#83c790" stroke-width="0.95" stroke-linecap="round"/>
<line x1="325.46" y1="76.35" x2="325.47" y2="77.58" stroke="#84c88f" stroke-width="0.95" stroke-linecap="round"/>
<line x1="325.47" y1="77.58" x2="325.48" y2="78.80" stroke="#85c98d" stroke-width="0.95" stroke-linecap="round"/>
<line x1="325.48" y1="78.80" x2="325.49" y2="80.03" stroke="#87c98c" stroke-width="0.95" stroke-linecap="round"/>
<line x1="325.49" y1="80.03" x2="325.50" y2="81.25" stroke="#88ca8a" stroke-width="0.95" stroke-linecap="round"/>
<line x1="325.50" y1="81.25" x2="325.51" y2="82.47" stroke="#89cb88" stroke-width="0.95" stroke-linecap="round"/>
<line x1="325.51" y1="82.47" x2="325.52" y2="83.70" stroke="#8acb87" stroke-width="0.95" stroke-linecap="round"/>
<line x1="325.52" y1="83.70" x2="325.53" y2="84.92" stroke="#8bcc85" stroke-width="0.95" stroke-linecap="round"/>
<line x1="325.53" y1="84.92" x2="325.54" y2="86.15" stroke="#8ccd84" stroke-width="0.95" stroke-linecap="round"/>
<line x1="325.54" y1="86.15" x2="325.55" y2="87.38" stroke="#8dce83" stroke-width="0.95" stroke-linecap="round"/>
<line x1="325.55" y1="87.38" x2="325.56" y2="88.60" stroke="#8fcf81" stroke-width="0.95" stroke-linecap="round"/>
<line x1="325.56" y1="88.60" x2="325.57" y2="89.83" stroke="#90d07f" stroke-width="0.95" stroke-linecap="round"/>
<line x1="325.57" y1="89.83" x2="325.58" y2="91.05" stroke="#91d07e" stroke-width="0.95" stroke-linecap="round"/>
<line x1="325.58" y1="91.05" x2="325.59" y2="92.28" stroke="#92d17c" stroke-width="0.95" stroke-linecap="round"/>
<line x1="325.59" y1="92.28" x2="325.60" y2="93.50" stroke="#93d17c" stroke-width="0.95" stroke-linecap="round"/>
<line x1="325.60" y1="93.50" x2="325.61" y2="94.72" stroke="#96d27c" stroke-width="0.95" stroke-linecap="round"/>
<line x1="325.61" y1="94.72" x2="325.62" y2="95.95" stroke="#97d27c" stroke-width="0.95" stroke-linecap="round"/>
<line x1="325.62" y1="95.95" x2="325.63" y2="97.17" stroke="#98d27b" stroke-width="0.95" stroke-linecap="round"/>
<line x1="325.63" y1="97.17" x2="325.64" y2="98.40" stroke="#9ad27b" stroke-width="0.95" stroke-linecap="round"/>
<line x1="325.64" y1="98.40" x2="325.65" y2="99.62" stroke="#9bd37a" stroke-width="0.95" stroke-linecap="round"/>
<line x1="325.65" y1="99.62" x2="325.66" y2="100.85" stroke="#9dd47a" stroke-width="0.95" stroke-linecap="round"/>
<line x1="325.66" y1="100.85" x2="325.67" y2="102.08" stroke="#9fd47a" stroke-width="0.95" stroke-linecap="round"/>
<line x1="325.67" y1="102.08" x2="325.68" y2="103.30" stroke="#a0d579" stroke-width="0.95" stroke-linecap="round"/>
<line x1="325.68" y1="103.30" x2="325.69" y2="104.53" stroke="#a1d579" stroke-width="0.95" stroke-linecap="round"/>
<line x1="325.69" y1="104.53" x2="325.70" y2="105.75" stroke="#a3d578" stroke-width="0.95" stroke-linecap="round"/>
<line x1="325.70" y1="105.75" x2="325.71" y2="106.97" stroke="#a5d578" stroke-width="0.95" stroke-linecap="round"/>
<line x1="325.71" y1="106.97" x2="325.72" y2="108.20" stroke="#a6d677" stroke-width="0.95" stroke-linecap="round"/>
<line x1="325.72" y1="108.20" x2="325.73" y2="109.42" stroke="#a8d677" stroke-width="0.95" stroke-linecap="round"/>
<line x1="325.73" y1="109.42" x2="325.74" y2="110.65" stroke="#a9d777" stroke-width="0.95" stroke-linecap="round"/>
<line x1="325.74" y1="110.65" x2="325.75" y2="111.88" stroke="#abd777" stroke-width="0.95" stroke-linecap="round"/>
<line x1="325.75" y1="111.88" x2="325.76" y2="113.10" stroke="#add776" stroke-width="0.95" stroke-linecap="round"/>
<line x1="325.76" y1="113.10" x2="325.77" y2="114.33" stroke="#aed876" stroke-width="0.95" stroke-linecap="round"/>
<line x1="325.77" y1="114.33" x2="325.78" y2="115.55" stroke="#afd876" stroke-width="0.95" stroke-linecap="round"/>
<line x1="325.78" y1="115.55" x2="325.79" y2="116.78" stroke="#b1d876" stroke-width="0.95" stroke-linecap="round"/>
<line x1="325.79" y1="116.78" x2="325.80" y2="118.00" stroke="#b2d876" stroke-width="0.95" stroke-linecap="round"/>
<line x1="325.80" y1="118.00" x2="325.81" y2="116.78" stroke="#b3d876" stroke-width="0.95" stroke-linecap="round"/>
<line x1="325.81" y1="116.78" x2="325.82" y2="115.55" stroke="#b2d876" stroke-width="0.95" stroke-linecap="round"/>
<line x1="325.82" y1="115.55" x2="325.83" y2="114.33" stroke="#b0d876" stroke-width="0.95" stroke-linecap="round"/>
<line x1="325.83" y1="114.33" x2="325.84" y2="113.10" stroke="#afd876" stroke-width="0.95" stroke-linecap="round"/>
<line x1="325.84" y1="113.10" x2="325.85" y2="111.88" stroke="#aed876" stroke-width="0.95" stroke-linecap="round"/>
<line x1="325.85" y1="111.88" x2="325.86" y2="110.65" stroke="#add776" stroke-width="0.95" stroke-linecap="round"/>
<line x1="325.86" y1="110.65" x2="325.87" y2="109.42" stroke="#abd776" stroke-width="0.95" stroke-linecap="round"/>
<line x1="325.87" y1="109.42" x2="325.88" y2="108.20" stroke="#abd777" stroke-width="0.95" stroke-linecap="round"/>
<line x1="325.88" y1="108.20" x2="325.89" y2="106.97" stroke="#a9d777" stroke-width="0.95" stroke-linecap="round"/>
<line x1="325.89" y1="106.97" x2="325.90" y2="105.75" stroke="#a8d677" stroke-width="0.95" stroke-linecap="round"/>
<line x1="325.90" y1="105.75" x2="325.91" y2="104.53" stroke="#a7d677" stroke-width="0.95" stroke-linecap="round"/>
<line x1="325.91" y1="104.53" x2="325.92" y2="103.30" stroke="#a6d677" stroke-width="0.95" stroke-linecap="round"/>
<line x1="325.92" y1="103.30" x2="325.93" y2="102.08" stroke="#a4d578" stroke-width="0.95" stroke-linecap="round"/>
<line x1="325.93" y1="102.08" x2="325.94" y2="100.85" stroke="#a4d578" stroke-width="0.95" stroke-linecap="round"/>
<line x1="325.94" y1="100.85" x2="325.95" y2="99.62" stroke="#a2d579" stroke-width="0.95" stroke-linecap="round"/>
<line x1="325.95" y1="99.62" x2="325.96" y2="98.40" stroke="#a1d579" stroke-width="0.95" stroke-linecap="round"/>
<line x1="325.96" y1="98.40" x2="325.97" y2="97.17" stroke="#9fd47a" stroke-width="0.95" stroke-linecap="round"/>
<line x1="325.97" y1="97.17" x2="325.98" y2="95.95" stroke="#9fd47a" stroke-width="0.95" stroke-linecap="round"/>
<line x1="325.98" y1="95.95" x2="325.99" y2="94.72" stroke="#9dd47a" stroke-width="0.95" stroke-linecap="round"/>
<line x1="325.99" y1="94.72" x2="326.00" y2="93.50" stroke="#9cd37a" stroke-width="0.95" stroke-linecap="round"/>
<line x1="326.00" y1="93.50" x2="326.01" y2="92.28" stroke="#9bd37a" stroke-width="0.95" stroke-linecap="round"/>
<line x1="326.01" y1="92.28" x2="326.02" y2="91.05" stroke="#9ad27b" stroke-width="0.95" stroke-linecap="round"/>
<line x1="326.02" y1="91.05" x2="326.03" y2="89.83" stroke="#98d27b" stroke-width="0.95" stroke-linecap="round"/>
<line x1="326.03" y1="89.83" x2="326.04" y2="88.60" stroke="#98d27b" stroke-width="0.95" stroke-linecap="round"/>
<line x1="326.04" y1="88.60" x2="326.05" y2="87.38" stroke="#96d27c" stroke-width="0.95" stroke-linecap="round"/>
<line x1="326.05" y1="87.38" x2="326.06" y2="86.15" stroke="#95d27c" stroke-width="0.95" stroke-linecap="round"/>
<line x1="326.06" y1="86.15" x2="326.07" y2="84.92" stroke="#93d17c" stroke-width="0.95" stroke-linecap="round"/>
<line x1="326.07" y1="84.92" x2="326.08" y2="83.70" stroke="#93d17c" stroke-width="0.95" stroke-linecap="round"/>
<line x1="326.08" y1="83.70" x2="326.09" y2="82.47" stroke="#91d07d" stroke-width="0.95" stroke-linecap="round"/>
<line x1="326.09" y1="82.47" x2="326.10" y2="81.25" stroke="#91d07e" stroke-width="0.95" stroke-linecap="round"/>
<line x1="326.10" y1="81.25" x2="326.11" y2="80.03" stroke="#90d07f" stroke-width="0.95" stroke-linecap="round"/>
<line x1="326.11" y1="80.03" x2="326.12" y2="78.80" stroke="#8fcf81" stroke-width="0.95" stroke-linecap="round"/>
<line x1="326.12" y1="78.80" x2="326.13" y2="77.58" stroke="#8ece82" stroke-width="0.95" stroke-linecap="round"/>
<line x1="326.13" y1="77.58" x2="326.14" y2="76.35" stroke="#8dce83" stroke-width="0.95" stroke-linecap="round"/>
<line x1="326.14" y1="76.35" x2="326.15" y2="75.12" stroke="#8ccd84" stroke-width="0.95" stroke-linecap="round"/>
<line x1="326.15" y1="75.12" x2="326.16" y2="73.90" stroke="#8bcc85" stroke-width="0.95" stroke-linecap="round"/>
<line x1="326.16" y1="73.90" x2="326.17" y2="72.67" stroke="#8acb87" stroke-width="0.95" stroke-linecap="round"/>
<line x1="326.17" y1="72.67" x2="326.18" y2="71.45" stroke="#8acb88" stroke-width="0.95" stroke-linecap="round"/>
<line x1="326.18" y1="71.45" x2="326.19" y2="70.22" stroke="#88cb89" stroke-width="0.95" stroke-linecap="round"/>
<line x1="326.19" y1="70.22" x2="326.20" y2="69.00" stroke="#88ca8a" stroke-width="0.95" stroke-linecap="round"/>
<line x1="326.20" y1="69.00" x2="326.28" y2="67.67" stroke="#75c27b" stroke-width="0.95" stroke-linecap="round"/>
<line x1="326.28" y1="67.67" x2="326.37" y2="66.33" stroke="#73c07f" stroke-width="0.95" stroke-linecap="round"/>
<line x1="326.37" y1="66.33" x2="326.45" y2="65.00" stroke="#71bf81" stroke-width="0.95" stroke-linecap="round"/>
<line x1="326.45" y1="65.00" x2="326.53" y2="63.67" stroke="#6fbe83" stroke-width="0.95" stroke-linecap="round"/>
<line x1="326.53" y1="63.67" x2="326.62" y2="62.33" stroke="#6dbc87" stroke-width="0.95" stroke-linecap="round"/>
<line x1="326.62" y1="62.33" x2="326.70" y2="61.00" stroke="#6bbb89" stroke-width="0.95" stroke-linecap="round"/>
<line x1="326.70" y1="61.00" x2="327.00" y2="59.50" stroke="#69b88f" stroke-width="0.95" stroke-linecap="round"/>
<line x1="327.00" y1="59.50" x2="327.30" y2="58.00" stroke="#67b497" stroke-width="0.95" stroke-linecap="round"/>
<line x1="327.30" y1="58.00" x2="327.40" y2="59.36" stroke="#67b398" stroke-width="0.95" stroke-linecap="round"/>
<line x1="327.40" y1="59.36" x2="327.50" y2="60.72" stroke="#68b693" stroke-width="0.95" stroke-linecap="round"/>
<line x1="327.50" y1="60.72" x2="327.60" y2="62.08" stroke="#69b88f" stroke-width="0.95" stroke-linecap="round"/>
<line x1="327.60" y1="62.08" x2="327.70" y2="63.44" stroke="#6aba8b" stroke-width="0.95" stroke-linecap="round"/>
<line x1="327.70" y1="63.44" x2="327.80" y2="64.80" stroke="#6dbc86" stroke-width="0.95" stroke-linecap="round"/>
<line x1="327.80" y1="64.80" x2="327.92" y2="63.58" stroke="#6dbc87" stroke-width="0.95" stroke-linecap="round"/>
<line x1="327.92" y1="63.58" x2="328.03" y2="62.37" stroke="#6ab98d" stroke-width="0.95" stroke-linecap="round"/>
<line x1="328.03" y1="62.37" x2="328.15" y2="61.15" stroke="#68b694" stroke-width="0.95" stroke-linecap="round"/>
<line x1="328.15" y1="61.15" x2="328.27" y2="59.93" stroke="#67b39b" stroke-width="0.95" stroke-linecap="round"/>
<line x1="328.27" y1="59.93" x2="328.38" y2="58.72" stroke="#65afa1" stroke-width="0.95" stroke-linecap="round"/>
<line x1="328.38" y1="58.72" x2="328.50" y2="57.50" stroke="#63aca7" stroke-width="0.95" stroke-linecap="round"/>
<line x1="328.50" y1="57.50" x2="329.86" y2="57.43" stroke="#90c8cc" stroke-width="0.95" stroke-linecap="round"/>
<line x1="329.86" y1="57.43" x2="331.21" y2="57.36" stroke="#90c8cc" stroke-width="0.95" stroke-linecap="round"/>
<line x1="331.21" y1="57.36" x2="332.57" y2="57.29" stroke="#90c8cc" stroke-width="0.95" stroke-linecap="round"/>
<line x1="332.57" y1="57.29" x2="333.93" y2="57.21" stroke="#90c8cc" stroke-width="0.95" stroke-linecap="round"/>
<line x1="333.93" y1="57.21" x2="335.29" y2="57.14" stroke="#90c8cc" stroke-width="0.95" stroke-linecap="round"/>
<line x1="335.29" y1="57.14" x2="336.64" y2="57.07" stroke="#90c8cc" stroke-width="0.95" stroke-linecap="round"/>
<line x1="336.64" y1="57.07" x2="338.00" y2="57.00" stroke="#90c8cc" stroke-width="0.95" stroke-linecap="round"/>
<line x1="338.00" y1="57.00" x2="339.10" y2="55.90" stroke="#61a7ac" stroke-width="0.95" stroke-linecap="round"/>
<line x1="339.10" y1="55.90" x2="340.20" y2="54.80" stroke="#67b497" stroke-width="0.95" stroke-linecap="round"/>
<line x1="340.20" y1="54.80" x2="340.85" y2="55.90" stroke="#67b497" stroke-width="0.95" stroke-linecap="round"/>
<line x1="340.85" y1="55.90" x2="341.50" y2="57.00" stroke="#61a7ac" stroke-width="0.95" stroke-linecap="round"/>
<line x1="341.50" y1="57.00" x2="342.83" y2="57.47" stroke="#90c8cc" stroke-width="0.95" stroke-linecap="round"/>
<line x1="342.83" y1="57.47" x2="344.17" y2="57.93" stroke="#81beb4" stroke-width="0.95" stroke-linecap="round"/>
<line x1="344.17" y1="57.93" x2="345.50" y2="58.40" stroke="#84c4a7" stroke-width="0.95" stroke-linecap="round"/>
<line x1="345.50" y1="58.40" x2="347.00" y2="57.00" stroke="#81beb4" stroke-width="0.95" stroke-linecap="round"/>
<line x1="347.00" y1="57.00" x2="348.33" y2="57.00" stroke="#90c8cc" stroke-width="0.95" stroke-linecap="round"/>
<line x1="348.33" y1="57.00" x2="349.67" y2="57.00" stroke="#90c8cc" stroke-width="0.95" stroke-linecap="round"/>
<line x1="349.67" y1="57.00" x2="351.00" y2="57.00" stroke="#90c8cc" stroke-width="0.95" stroke-linecap="round"/>
<line x1="351.00" y1="57.00" x2="352.33" y2="57.00" stroke="#90c8cc" stroke-width="0.95" stroke-linecap="round"/>
<line x1="352.33" y1="57.00" x2="353.67" y2="57.00" stroke="#90c8cc" stroke-width="0.95" stroke-linecap="round"/>
<line x1="353.67" y1="57.00" x2="355.00" y2="57.00" stroke="#90c8cc" stroke-width="0.95" stroke-linecap="round"/>
<line x1="355.00" y1="57.00" x2="356.27" y2="57.05" stroke="#90c8cc" stroke-width="0.95" stroke-linecap="round"/>
<line x1="356.27" y1="57.05" x2="357.53" y2="57.10" stroke="#90c8cc" stroke-width="0.95" stroke-linecap="round"/>
<line x1="357.53" y1="57.10" x2="358.80" y2="57.15" stroke="#90c8cc" stroke-width="0.95" stroke-linecap="round"/>
<line x1="358.80" y1="57.15" x2="360.07" y2="57.20" stroke="#90c8cc" stroke-width="0.95" stroke-linecap="round"/>
<line x1="360.07" y1="57.20" x2="361.33" y2="57.25" stroke="#81beb4" stroke-width="0.95" stroke-linecap="round"/>
<line x1="361.33" y1="57.25" x2="362.60" y2="57.30" stroke="#82bfaf" stroke-width="0.95" stroke-linecap="round"/>
<line x1="362.60" y1="57.30" x2="363.13" y2="58.40" stroke="#69b78f" stroke-width="0.95" stroke-linecap="round"/>
<line x1="363.13" y1="58.40" x2="363.67" y2="59.50" stroke="#76c37b" stroke-width="0.95" stroke-linecap="round"/>
<line x1="363.67" y1="59.50" x2="364.20" y2="60.60" stroke="#87cb69" stroke-width="0.95" stroke-linecap="round"/>
<line x1="364.20" y1="60.60" x2="364.67" y2="59.40" stroke="#85cb6a" stroke-width="0.95" stroke-linecap="round"/>
<line x1="364.67" y1="59.40" x2="365.13" y2="58.20" stroke="#70bf83" stroke-width="0.95" stroke-linecap="round"/>
<line x1="365.13" y1="58.20" x2="365.60" y2="57.00" stroke="#66b19d" stroke-width="0.95" stroke-linecap="round"/>
<line x1="365.60" y1="57.00" x2="366.82" y2="57.20" stroke="#90c8cc" stroke-width="0.95" stroke-linecap="round"/>
<line x1="366.82" y1="57.20" x2="368.03" y2="57.40" stroke="#81beb4" stroke-width="0.95" stroke-linecap="round"/>
<line x1="368.03" y1="57.40" x2="369.25" y2="57.60" stroke="#82bfaf" stroke-width="0.95" stroke-linecap="round"/>
<line x1="369.25" y1="57.60" x2="370.47" y2="57.80" stroke="#83c1ab" stroke-width="0.95" stroke-linecap="round"/>
<line x1="370.47" y1="57.80" x2="371.68" y2="58.00" stroke="#84c4a6" stroke-width="0.95" stroke-linecap="round"/>
<line x1="371.68" y1="58.00" x2="372.90" y2="58.20" stroke="#86c6a2" stroke-width="0.95" stroke-linecap="round"/>
<line x1="372.90" y1="58.20" x2="373.95" y2="57.60" stroke="#84c2aa" stroke-width="0.95" stroke-linecap="round"/>
<line x1="373.95" y1="57.60" x2="375.00" y2="57.00" stroke="#90c8cc" stroke-width="0.95" stroke-linecap="round"/>
<line x1="375.00" y1="57.00" x2="376.25" y2="56.90" stroke="#90c8cc" stroke-width="0.95" stroke-linecap="round"/>
<line x1="376.25" y1="56.90" x2="377.50" y2="56.80" stroke="#90c8cc" stroke-width="0.95" stroke-linecap="round"/>
<line x1="377.50" y1="56.80" x2="378.75" y2="56.70" stroke="#90c8cc" stroke-width="0.95" stroke-linecap="round"/>
<line x1="378.75" y1="56.70" x2="380.00" y2="56.60" stroke="#90c8cc" stroke-width="0.95" stroke-linecap="round"/>
<line x1="380.00" y1="56.60" x2="381.35" y2="56.70" stroke="#90c8cc" stroke-width="0.95" stroke-linecap="round"/>
<line x1="381.35" y1="56.70" x2="382.70" y2="56.80" stroke="#90c8cc" stroke-width="0.95" stroke-linecap="round"/>
<line x1="382.70" y1="56.80" x2="384.05" y2="56.90" stroke="#90c8cc" stroke-width="0.95" stroke-linecap="round"/>
<line x1="384.05" y1="56.90" x2="385.40" y2="57.00" stroke="#82bfb1" stroke-width="0.95" stroke-linecap="round"/>
<line x1="385.40" y1="57.00" x2="386.10" y2="58.25" stroke="#68b693" stroke-width="0.95" stroke-linecap="round"/>
<line x1="386.10" y1="58.25" x2="386.80" y2="59.50" stroke="#6ebc86" stroke-width="0.95" stroke-linecap="round"/>
<line x1="386.80" y1="59.50" x2="387.50" y2="60.75" stroke="#77c378" stroke-width="0.95" stroke-linecap="round"/>
<line x1="387.50" y1="60.75" x2="388.20" y2="62.00" stroke="#82ca6b" stroke-width="0.95" stroke-linecap="round"/>
<line x1="388.20" y1="62.00" x2="388.63" y2="60.67" stroke="#82cb6b" stroke-width="0.95" stroke-linecap="round"/>
<line x1="388.63" y1="60.67" x2="389.07" y2="59.33" stroke="#79c477" stroke-width="0.95" stroke-linecap="round"/>
<line x1="389.07" y1="59.33" x2="389.50" y2="58.00" stroke="#6fbe84" stroke-width="0.95" stroke-linecap="round"/>
<line x1="389.50" y1="58.00" x2="390.30" y2="57.00" stroke="#4daf64" stroke-width="0.95" stroke-linecap="round"/>
<line x1="390.30" y1="57.00" x2="390.50" y2="55.58" stroke="#7ec770" stroke-width="0.95" stroke-linecap="round"/>
<line x1="390.50" y1="55.58" x2="390.70" y2="54.15" stroke="#90ce67" stroke-width="0.95" stroke-linecap="round"/>
<line x1="390.70" y1="54.15" x2="390.90" y2="52.72" stroke="#8ec83c" stroke-width="0.95" stroke-linecap="round"/>
<line x1="390.90" y1="52.72" x2="391.10" y2="51.30" stroke="#a7cb3c" stroke-width="0.95" stroke-linecap="round"/>
<line x1="391.10" y1="51.30" x2="391.27" y2="50.05" stroke="#bbc93a" stroke-width="1.3" stroke-linecap="round"/>
<line x1="391.27" y1="50.05" x2="391.43" y2="48.80" stroke="#c9c338" stroke-width="1.3" stroke-linecap="round"/>
<line x1="391.43" y1="48.80" x2="391.60" y2="47.55" stroke="#d7bb36" stroke-width="1.3" stroke-linecap="round"/>
<line x1="391.60" y1="47.55" x2="391.77" y2="46.30" stroke="#d9a732" stroke-width="1.3" stroke-linecap="round"/>
<line x1="391.77" y1="46.30" x2="391.93" y2="45.05" stroke="#db922e" stroke-width="1.3" stroke-linecap="round"/>
<line x1="391.93" y1="45.05" x2="392.10" y2="43.80" stroke="#d97d2a" stroke-width="1.3" stroke-linecap="round"/>
<line x1="392.10" y1="43.80" x2="392.27" y2="45.20" stroke="#d56a26" stroke-width="1.3" stroke-linecap="round"/>
<line x1="392.27" y1="45.20" x2="392.43" y2="46.60" stroke="#d25a23" stroke-width="1.3" stroke-linecap="round"/>
<line x1="392.43" y1="46.60" x2="392.60" y2="48.00" stroke="#cb4721" stroke-width="1.3" stroke-linecap="round"/>
<line x1="392.60" y1="48.00" x2="392.72" y2="46.80" stroke="#c73d20" stroke-width="1.3" stroke-linecap="round"/>
<line x1="392.72" y1="46.80" x2="392.84" y2="45.60" stroke="#c63b20" stroke-width="1.3" stroke-linecap="round"/>
<line x1="392.84" y1="45.60" x2="392.96" y2="44.40" stroke="#c63920" stroke-width="1.3" stroke-linecap="round"/>
<line x1="392.96" y1="44.40" x2="393.08" y2="43.20" stroke="#c5361f" stroke-width="1.3" stroke-linecap="round"/>
<line x1="393.08" y1="43.20" x2="393.20" y2="42.00" stroke="#c4341f" stroke-width="1.3" stroke-linecap="round"/>
<line x1="393.20" y1="42.00" x2="393.35" y2="43.38" stroke="#c4341f" stroke-width="1.3" stroke-linecap="round"/>
<line x1="393.35" y1="43.38" x2="393.50" y2="44.75" stroke="#c5371f" stroke-width="1.3" stroke-linecap="round"/>
<line x1="393.50" y1="44.75" x2="393.65" y2="46.12" stroke="#c63a20" stroke-width="1.3" stroke-linecap="round"/>
<line x1="393.65" y1="46.12" x2="393.80" y2="47.50" stroke="#c73d20" stroke-width="1.3" stroke-linecap="round"/>
<line x1="393.80" y1="47.50" x2="393.92" y2="46.30" stroke="#c73d20" stroke-width="1.3" stroke-linecap="round"/>
<line x1="393.92" y1="46.30" x2="394.04" y2="45.10" stroke="#c73c20" stroke-width="1.3" stroke-linecap="round"/>
<line x1="394.04" y1="45.10" x2="394.16" y2="43.90" stroke="#c73b20" stroke-width="1.3" stroke-linecap="round"/>
<line x1="394.16" y1="43.90" x2="394.28" y2="42.70" stroke="#c63a20" stroke-width="1.3" stroke-linecap="round"/>
<line x1="394.28" y1="42.70" x2="394.40" y2="41.50" stroke="#c63920" stroke-width="1.3" stroke-linecap="round"/>
<line x1="394.40" y1="41.50" x2="394.44" y2="40.30" stroke="#c83f20" stroke-width="1.3" stroke-linecap="round"/>
<line x1="394.44" y1="40.30" x2="394.49" y2="39.10" stroke="#cc4b21" stroke-width="1.3" stroke-linecap="round"/>
<line x1="394.49" y1="39.10" x2="394.53" y2="37.90" stroke="#d15822" stroke-width="1.3" stroke-linecap="round"/>
<line x1="394.53" y1="37.90" x2="394.57" y2="36.70" stroke="#d46425" stroke-width="1.3" stroke-linecap="round"/>
<line x1="394.57" y1="36.70" x2="394.61" y2="35.50" stroke="#d66f27" stroke-width="1.3" stroke-linecap="round"/>
<line x1="394.61" y1="35.50" x2="394.66" y2="34.30" stroke="#d87a29" stroke-width="1.3" stroke-linecap="round"/>
<line x1="394.66" y1="34.30" x2="394.70" y2="33.10" stroke="#da862b" stroke-width="1.3" stroke-linecap="round"/>
<line x1="394.70" y1="33.10" x2="394.74" y2="34.30" stroke="#da862b" stroke-width="1.3" stroke-linecap="round"/>
<line x1="394.74" y1="34.30" x2="394.79" y2="35.50" stroke="#d87a29" stroke-width="1.3" stroke-linecap="round"/>
<line x1="394.79" y1="35.50" x2="394.83" y2="36.70" stroke="#d66f27" stroke-width="1.3" stroke-linecap="round"/>
<line x1="394.83" y1="36.70" x2="394.87" y2="37.90" stroke="#d46425" stroke-width="1.3" stroke-linecap="round"/>
<line x1="394.87" y1="37.90" x2="394.91" y2="39.10" stroke="#d15822" stroke-width="1.3" stroke-linecap="round"/>
<line x1="394.91" y1="39.10" x2="394.96" y2="40.30" stroke="#cc4b21" stroke-width="1.3" stroke-linecap="round"/>
<line x1="394.96" y1="40.30" x2="395.00" y2="41.50" stroke="#c83f20" stroke-width="1.3" stroke-linecap="round"/>
<line x1="395.00" y1="41.50" x2="395.10" y2="42.80" stroke="#c63920" stroke-width="1.3" stroke-linecap="round"/>
<line x1="395.10" y1="42.80" x2="395.20" y2="44.10" stroke="#c63a20" stroke-width="1.3" stroke-linecap="round"/>
<line x1="395.20" y1="44.10" x2="395.30" y2="45.40" stroke="#c73b20" stroke-width="1.3" stroke-linecap="round"/>
<line x1="395.30" y1="45.40" x2="395.40" y2="46.70" stroke="#c73c20" stroke-width="1.3" stroke-linecap="round"/>
<line x1="395.40" y1="46.70" x2="395.50" y2="48.00" stroke="#c73d20" stroke-width="1.3" stroke-linecap="round"/>
<line x1="395.50" y1="48.00" x2="395.62" y2="46.80" stroke="#c73d20" stroke-width="1.3" stroke-linecap="round"/>
<line x1="395.62" y1="46.80" x2="395.74" y2="45.60" stroke="#c63b20" stroke-width="1.3" stroke-linecap="round"/>
<line x1="395.74" y1="45.60" x2="395.86" y2="44.40" stroke="#c63920" stroke-width="1.3" stroke-linecap="round"/>
<line x1="395.86" y1="44.40" x2="395.98" y2="43.20" stroke="#c5361f" stroke-width="1.3" stroke-linecap="round"/>
<line x1="395.98" y1="43.20" x2="396.10" y2="42.00" stroke="#c4341f" stroke-width="1.3" stroke-linecap="round"/>
<line x1="396.10" y1="42.00" x2="396.22" y2="43.20" stroke="#c4341f" stroke-width="1.3" stroke-linecap="round"/>
<line x1="396.22" y1="43.20" x2="396.34" y2="44.40" stroke="#c5361f" stroke-width="1.3" stroke-linecap="round"/>
<line x1="396.34" y1="44.40" x2="396.46" y2="45.60" stroke="#c63920" stroke-width="1.3" stroke-linecap="round"/>
<line x1="396.46" y1="45.60" x2="396.58" y2="46.80" stroke="#c63b20" stroke-width="1.3" stroke-linecap="round"/>
<line x1="396.58" y1="46.80" x2="396.70" y2="48.00" stroke="#c73d20" stroke-width="1.3" stroke-linecap="round"/>
<line x1="396.70" y1="48.00" x2="396.82" y2="46.80" stroke="#c73d20" stroke-width="1.3" stroke-linecap="round"/>
<line x1="396.82" y1="46.80" x2="396.94" y2="45.60" stroke="#c73c20" stroke-width="1.3" stroke-linecap="round"/>
<line x1="396.94" y1="45.60" x2="397.06" y2="44.40" stroke="#c73b20" stroke-width="1.3" stroke-linecap="round"/>
<line x1="397.06" y1="44.40" x2="397.18" y2="43.20" stroke="#c63a20" stroke-width="1.3" stroke-linecap="round"/>
<line x1="397.18" y1="43.20" x2="397.30" y2="42.00" stroke="#c63920" stroke-width="1.3" stroke-linecap="round"/>
<line x1="397.30" y1="42.00" x2="397.60" y2="40.20" stroke="#ce4f22" stroke-width="1.3" stroke-linecap="round"/>
<line x1="397.60" y1="40.20" x2="397.68" y2="41.65" stroke="#d36224" stroke-width="1.3" stroke-linecap="round"/>
<line x1="397.68" y1="41.65" x2="397.75" y2="43.10" stroke="#d36024" stroke-width="1.3" stroke-linecap="round"/>
<line x1="397.75" y1="43.10" x2="397.82" y2="44.55" stroke="#d25d23" stroke-width="1.3" stroke-linecap="round"/>
<line x1="397.82" y1="44.55" x2="397.90" y2="46.00" stroke="#d25b23" stroke-width="1.3" stroke-linecap="round"/>
<line x1="397.90" y1="46.00" x2="398.04" y2="47.36" stroke="#d35f24" stroke-width="1.3" stroke-linecap="round"/>
<line x1="398.04" y1="47.36" x2="398.18" y2="48.72" stroke="#d56926" stroke-width="1.3" stroke-linecap="round"/>
<line x1="398.18" y1="48.72" x2="398.32" y2="50.08" stroke="#d77227" stroke-width="1.3" stroke-linecap="round"/>
<line x1="398.32" y1="50.08" x2="398.46" y2="51.44" stroke="#d97c2a" stroke-width="1.3" stroke-linecap="round"/>
<line x1="398.46" y1="51.44" x2="398.60" y2="52.80" stroke="#db872c" stroke-width="1.3" stroke-linecap="round"/>
<line x1="398.60" y1="52.80" x2="399.10" y2="54.30" stroke="#d8b134" stroke-width="1.3" stroke-linecap="round"/>
<line x1="399.10" y1="54.30" x2="399.60" y2="55.80" stroke="#aacb3c" stroke-width="0.95" stroke-linecap="round"/>
<line x1="399.60" y1="55.80" x2="400.60" y2="57.20" stroke="#5cb950" stroke-width="0.95" stroke-linecap="round"/>
<line x1="400.60" y1="57.20" x2="402.00" y2="57.60" stroke="#90c8cc" stroke-width="0.95" stroke-linecap="round"/>
<line x1="402.00" y1="57.60" x2="404.00" y2="58.00" stroke="#90c8cc" stroke-width="0.95" stroke-linecap="round"/>
<line x1="404.00" y1="58.00" x2="405.50" y2="58.50" stroke="#65b09f" stroke-width="0.95" stroke-linecap="round"/>
<line x1="405.50" y1="58.50" x2="407.00" y2="59.00" stroke="#6dbc87" stroke-width="0.95" stroke-linecap="round"/>
<line x1="407.00" y1="59.00" x2="408.60" y2="59.80" stroke="#7cc773" stroke-width="0.95" stroke-linecap="round"/>
<line x1="408.60" y1="59.80" x2="410.20" y2="60.60" stroke="#8acc68" stroke-width="0.95" stroke-linecap="round"/>
<line x1="410.20" y1="60.60" x2="410.90" y2="59.05" stroke="#8acc68" stroke-width="0.95" stroke-linecap="round"/>
<line x1="410.90" y1="59.05" x2="411.60" y2="57.50" stroke="#7cc773" stroke-width="0.95" stroke-linecap="round"/>
<line x1="411.60" y1="57.50" x2="411.93" y2="56.33" stroke="#81ca6c" stroke-width="0.95" stroke-linecap="round"/>
<line x1="411.93" y1="56.33" x2="412.27" y2="55.17" stroke="#9ed163" stroke-width="0.95" stroke-linecap="round"/>
<line x1="412.27" y1="55.17" x2="412.60" y2="54.00" stroke="#aacb3c" stroke-width="0.95" stroke-linecap="round"/>
<line x1="412.60" y1="54.00" x2="412.91" y2="52.74" stroke="#c4c639" stroke-width="1.3" stroke-linecap="round"/>
<line x1="412.91" y1="52.74" x2="413.23" y2="51.49" stroke="#d6be37" stroke-width="1.3" stroke-linecap="round"/>
<line x1="413.23" y1="51.49" x2="413.54" y2="50.23" stroke="#d9a532" stroke-width="1.3" stroke-linecap="round"/>
<line x1="413.54" y1="50.23" x2="413.86" y2="48.97" stroke="#dc8c2d" stroke-width="1.3" stroke-linecap="round"/>
<line x1="413.86" y1="48.97" x2="414.17" y2="47.71" stroke="#d67227" stroke-width="1.3" stroke-linecap="round"/>
<line x1="414.17" y1="47.71" x2="414.49" y2="46.46" stroke="#d15822" stroke-width="1.3" stroke-linecap="round"/>
<line x1="414.49" y1="46.46" x2="414.80" y2="45.20" stroke="#c73c20" stroke-width="1.3" stroke-linecap="round"/>
<line x1="414.80" y1="45.20" x2="416.60" y2="45.60" stroke="#c22e1f" stroke-width="1.3" stroke-linecap="round"/>
<line x1="416.60" y1="45.60" x2="416.80" y2="46.79" stroke="#c63920" stroke-width="1.3" stroke-linecap="round"/>
<line x1="416.80" y1="46.79" x2="417.00" y2="47.98" stroke="#ce5022" stroke-width="1.3" stroke-linecap="round"/>
<line x1="417.00" y1="47.98" x2="417.20" y2="49.17" stroke="#d46625" stroke-width="1.3" stroke-linecap="round"/>
<line x1="417.20" y1="49.17" x2="417.40" y2="50.36" stroke="#d87b29" stroke-width="1.3" stroke-linecap="round"/>
<line x1="417.40" y1="50.36" x2="417.60" y2="51.54" stroke="#db912e" stroke-width="1.3" stroke-linecap="round"/>
<line x1="417.60" y1="51.54" x2="417.80" y2="52.73" stroke="#d9a632" stroke-width="1.3" stroke-linecap="round"/>
<line x1="417.80" y1="52.73" x2="418.00" y2="53.92" stroke="#d7bb36" stroke-width="1.3" stroke-linecap="round"/>
<line x1="418.00" y1="53.92" x2="418.20" y2="55.11" stroke="#cac338" stroke-width="1.3" stroke-linecap="round"/>
<line x1="418.20" y1="55.11" x2="418.40" y2="56.30" stroke="#bbc93a" stroke-width="1.3" stroke-linecap="round"/>
<line x1="418.40" y1="56.30" x2="419.50" y2="57.00" stroke="#77c341" stroke-width="0.95" stroke-linecap="round"/>
<line x1="419.50" y1="57.00" x2="420.85" y2="57.00" stroke="#85c5a4" stroke-width="0.95" stroke-linecap="round"/>
<line x1="420.85" y1="57.00" x2="422.20" y2="57.00" stroke="#84c2aa" stroke-width="0.95" stroke-linecap="round"/>
<line x1="422.20" y1="57.00" x2="422.70" y2="56.30" stroke="#6dc043" stroke-width="0.95" stroke-linecap="round"/>
<line x1="422.70" y1="56.30" x2="423.01" y2="55.04" stroke="#bbc93a" stroke-width="1.3" stroke-linecap="round"/>
<line x1="423.01" y1="55.04" x2="423.32" y2="53.79" stroke="#cac338" stroke-width="1.3" stroke-linecap="round"/>
<line x1="423.32" y1="53.79" x2="423.63" y2="52.53" stroke="#d7bb36" stroke-width="1.3" stroke-linecap="round"/>
<line x1="423.63" y1="52.53" x2="423.94" y2="51.28" stroke="#d9a632" stroke-width="1.3" stroke-linecap="round"/>
<line x1="423.94" y1="51.28" x2="424.26" y2="50.02" stroke="#db912e" stroke-width="1.3" stroke-linecap="round"/>
<line x1="424.26" y1="50.02" x2="424.57" y2="48.77" stroke="#d87b29" stroke-width="1.3" stroke-linecap="round"/>
<line x1="424.57" y1="48.77" x2="424.88" y2="47.51" stroke="#d46625" stroke-width="1.3" stroke-linecap="round"/>
<line x1="424.88" y1="47.51" x2="425.19" y2="46.26" stroke="#ce5022" stroke-width="1.3" stroke-linecap="round"/>
<line x1="425.19" y1="46.26" x2="425.50" y2="45.00" stroke="#c63920" stroke-width="1.3" stroke-linecap="round"/>
<line x1="425.50" y1="45.00" x2="426.80" y2="45.50" stroke="#c22e1f" stroke-width="1.3" stroke-linecap="round"/>
<line x1="426.80" y1="45.50" x2="427.17" y2="46.75" stroke="#c5381f" stroke-width="1.3" stroke-linecap="round"/>
<line x1="427.17" y1="46.75" x2="427.53" y2="48.00" stroke="#cd4d21" stroke-width="1.3" stroke-linecap="round"/>
<line x1="427.53" y1="48.00" x2="427.90" y2="49.25" stroke="#d36124" stroke-width="1.3" stroke-linecap="round"/>
<line x1="427.90" y1="49.25" x2="428.27" y2="50.50" stroke="#d77528" stroke-width="1.3" stroke-linecap="round"/>
<line x1="428.27" y1="50.50" x2="428.63" y2="51.75" stroke="#db882c" stroke-width="1.3" stroke-linecap="round"/>
<line x1="428.63" y1="51.75" x2="429.00" y2="53.00" stroke="#da9b30" stroke-width="1.3" stroke-linecap="round"/>
<line x1="429.00" y1="53.00" x2="429.53" y2="54.13" stroke="#d7b535" stroke-width="1.3" stroke-linecap="round"/>
<line x1="429.53" y1="54.13" x2="430.07" y2="55.27" stroke="#c5c539" stroke-width="1.3" stroke-linecap="round"/>
<line x1="430.07" y1="55.27" x2="430.60" y2="56.40" stroke="#adcc3c" stroke-width="0.95" stroke-linecap="round"/>
<line x1="430.60" y1="56.40" x2="431.50" y2="57.00" stroke="#5cb950" stroke-width="0.95" stroke-linecap="round"/>
<line x1="431.50" y1="57.00" x2="432.71" y2="57.00" stroke="#90c8cc" stroke-width="0.95" stroke-linecap="round"/>
<line x1="432.71" y1="57.00" x2="433.93" y2="57.00" stroke="#90c8cc" stroke-width="0.95" stroke-linecap="round"/>
<line x1="433.93" y1="57.00" x2="435.14" y2="57.00" stroke="#90c8cc" stroke-width="0.95" stroke-linecap="round"/>
<line x1="435.14" y1="57.00" x2="436.36" y2="57.00" stroke="#90c8cc" stroke-width="0.95" stroke-linecap="round"/>
<line x1="436.36" y1="57.00" x2="437.57" y2="57.00" stroke="#90c8cc" stroke-width="0.95" stroke-linecap="round"/>
<line x1="437.57" y1="57.00" x2="438.79" y2="57.00" stroke="#90c8cc" stroke-width="0.95" stroke-linecap="round"/>
<line x1="438.79" y1="57.00" x2="440.00" y2="57.00" stroke="#90c8cc" stroke-width="0.95" stroke-linecap="round"/>
<line x1="440.00" y1="57.00" x2="441.28" y2="57.00" stroke="#90c8cc" stroke-width="0.95" stroke-linecap="round"/>
<line x1="441.28" y1="57.00" x2="442.56" y2="57.00" stroke="#90c8cc" stroke-width="0.95" stroke-linecap="round"/>
<line x1="442.56" y1="57.00" x2="443.84" y2="57.00" stroke="#90c8cc" stroke-width="0.95" stroke-linecap="round"/>
<line x1="443.84" y1="57.00" x2="445.12" y2="57.00" stroke="#90c8cc" stroke-width="0.95" stroke-linecap="round"/>
<line x1="445.12" y1="57.00" x2="446.40" y2="57.00" stroke="#90c8cc" stroke-width="0.95" stroke-linecap="round"/>
<line x1="446.40" y1="57.00" x2="447.68" y2="57.00" stroke="#90c8cc" stroke-width="0.95" stroke-linecap="round"/>
<line x1="447.68" y1="57.00" x2="448.96" y2="57.00" stroke="#90c8cc" stroke-width="0.95" stroke-linecap="round"/>
<line x1="448.96" y1="57.00" x2="450.24" y2="57.00" stroke="#90c8cc" stroke-width="0.95" stroke-linecap="round"/>
<line x1="450.24" y1="57.00" x2="451.52" y2="57.00" stroke="#90c8cc" stroke-width="0.95" stroke-linecap="round"/>
<line x1="451.52" y1="57.00" x2="452.80" y2="57.00" stroke="#90c8cc" stroke-width="0.95" stroke-linecap="round"/>
<line x1="452.80" y1="57.00" x2="453.80" y2="59.00" stroke="#70bf83" stroke-width="0.95" stroke-linecap="round"/>
<line x1="453.80" y1="59.00" x2="453.93" y2="60.33" stroke="#93cf66" stroke-width="0.95" stroke-linecap="round"/>
<line x1="453.93" y1="60.33" x2="454.06" y2="61.66" stroke="#96cf65" stroke-width="0.95" stroke-linecap="round"/>
<line x1="454.06" y1="61.66" x2="454.19" y2="62.99" stroke="#98cf65" stroke-width="0.95" stroke-linecap="round"/>
<line x1="454.19" y1="62.99" x2="454.31" y2="64.31" stroke="#9bd064" stroke-width="0.95" stroke-linecap="round"/>
<line x1="454.31" y1="64.31" x2="454.44" y2="65.64" stroke="#9cd163" stroke-width="0.95" stroke-linecap="round"/>
<line x1="454.44" y1="65.64" x2="454.57" y2="66.97" stroke="#9fd163" stroke-width="0.95" stroke-linecap="round"/>
<line x1="454.57" y1="66.97" x2="454.70" y2="68.30" stroke="#a1d263" stroke-width="0.95" stroke-linecap="round"/>
<line x1="454.70" y1="68.30" x2="454.81" y2="66.97" stroke="#a1d263" stroke-width="0.95" stroke-linecap="round"/>
<line x1="454.81" y1="66.97" x2="454.93" y2="65.64" stroke="#9fd163" stroke-width="0.95" stroke-linecap="round"/>
<line x1="454.93" y1="65.64" x2="455.04" y2="64.31" stroke="#9cd163" stroke-width="0.95" stroke-linecap="round"/>
<line x1="455.04" y1="64.31" x2="455.16" y2="62.99" stroke="#9bd064" stroke-width="0.95" stroke-linecap="round"/>
<line x1="455.16" y1="62.99" x2="455.27" y2="61.66" stroke="#98cf65" stroke-width="0.95" stroke-linecap="round"/>
<line x1="455.27" y1="61.66" x2="455.39" y2="60.33" stroke="#96cf65" stroke-width="0.95" stroke-linecap="round"/>
<line x1="455.39" y1="60.33" x2="455.50" y2="59.00" stroke="#93cf66" stroke-width="0.95" stroke-linecap="round"/>
<line x1="455.50" y1="59.00" x2="456.50" y2="57.00" stroke="#70bf83" stroke-width="0.95" stroke-linecap="round"/>
<line x1="456.50" y1="57.00" x2="457.75" y2="57.00" stroke="#90c8cc" stroke-width="0.95" stroke-linecap="round"/>
<line x1="457.75" y1="57.00" x2="459.00" y2="57.00" stroke="#90c8cc" stroke-width="0.95" stroke-linecap="round"/>
<line x1="459.00" y1="57.00" x2="460.25" y2="57.00" stroke="#90c8cc" stroke-width="0.95" stroke-linecap="round"/>
<line x1="460.25" y1="57.00" x2="461.50" y2="57.00" stroke="#90c8cc" stroke-width="0.95" stroke-linecap="round"/>
<line x1="461.50" y1="57.00" x2="462.25" y2="58.00" stroke="#5fa0b1" stroke-width="0.95" stroke-linecap="round"/>
<line x1="462.25" y1="58.00" x2="463.00" y2="59.00" stroke="#60a4ae" stroke-width="0.95" stroke-linecap="round"/>
<line x1="463.00" y1="59.00" x2="463.75" y2="60.00" stroke="#62a9ab" stroke-width="0.95" stroke-linecap="round"/>
<line x1="463.75" y1="60.00" x2="464.50" y2="61.00" stroke="#63aca7" stroke-width="0.95" stroke-linecap="round"/>
<line x1="464.50" y1="61.00" x2="465.02" y2="62.25" stroke="#64aea3" stroke-width="0.95" stroke-linecap="round"/>
<line x1="465.02" y1="62.25" x2="465.55" y2="63.50" stroke="#64afa2" stroke-width="0.95" stroke-linecap="round"/>
<line x1="465.55" y1="63.50" x2="466.08" y2="64.75" stroke="#65afa0" stroke-width="0.95" stroke-linecap="round"/>
<line x1="466.08" y1="64.75" x2="466.60" y2="66.00" stroke="#65b09f" stroke-width="0.95" stroke-linecap="round"/>
<line x1="466.60" y1="66.00" x2="467.08" y2="64.75" stroke="#65b09f" stroke-width="0.95" stroke-linecap="round"/>
<line x1="467.08" y1="64.75" x2="467.55" y2="63.50" stroke="#65afa0" stroke-width="0.95" stroke-linecap="round"/>
<line x1="467.55" y1="63.50" x2="468.02" y2="62.25" stroke="#64afa2" stroke-width="0.95" stroke-linecap="round"/>
<line x1="468.02" y1="62.25" x2="468.50" y2="61.00" stroke="#64aea3" stroke-width="0.95" stroke-linecap="round"/>
<line x1="468.50" y1="61.00" x2="469.17" y2="59.67" stroke="#63aba7" stroke-width="0.95" stroke-linecap="round"/>
<line x1="469.17" y1="59.67" x2="469.83" y2="58.33" stroke="#61a7ad" stroke-width="0.95" stroke-linecap="round"/>
<line x1="469.83" y1="58.33" x2="470.50" y2="57.00" stroke="#5fa1b0" stroke-width="0.95" stroke-linecap="round"/>
<line x1="470.50" y1="57.00" x2="471.86" y2="57.00" stroke="#90c8cc" stroke-width="0.95" stroke-linecap="round"/>
<line x1="471.86" y1="57.00" x2="473.21" y2="57.00" stroke="#90c8cc" stroke-width="0.95" stroke-linecap="round"/>
<line x1="473.21" y1="57.00" x2="474.57" y2="57.00" stroke="#90c8cc" stroke-width="0.95" stroke-linecap="round"/>
<line x1="474.57" y1="57.00" x2="475.93" y2="57.00" stroke="#90c8cc" stroke-width="0.95" stroke-linecap="round"/>
<line x1="475.93" y1="57.00" x2="477.29" y2="57.00" stroke="#90c8cc" stroke-width="0.95" stroke-linecap="round"/>
<line x1="477.29" y1="57.00" x2="478.64" y2="57.00" stroke="#90c8cc" stroke-width="0.95" stroke-linecap="round"/>
<line x1="478.64" y1="57.00" x2="480.00" y2="57.00" stroke="#90c8cc" stroke-width="0.95" stroke-linecap="round"/>
<line x1="480.00" y1="57.00" x2="481.20" y2="57.04" stroke="#90c8cc" stroke-width="0.95" stroke-linecap="round"/>
<line x1="481.20" y1="57.04" x2="482.40" y2="57.08" stroke="#90c8cc" stroke-width="0.95" stroke-linecap="round"/>
<line x1="482.40" y1="57.08" x2="483.60" y2="57.12" stroke="#90c8cc" stroke-width="0.95" stroke-linecap="round"/>
<line x1="483.60" y1="57.12" x2="484.80" y2="57.16" stroke="#90c8cc" stroke-width="0.95" stroke-linecap="round"/>
<line x1="484.80" y1="57.16" x2="486.00" y2="57.20" stroke="#90c8cc" stroke-width="0.95" stroke-linecap="round"/>
<line x1="486.00" y1="57.20" x2="487.20" y2="57.10" stroke="#90c8cc" stroke-width="0.95" stroke-linecap="round"/>
<line x1="487.20" y1="57.10" x2="488.40" y2="57.00" stroke="#90c8cc" stroke-width="0.95" stroke-linecap="round"/>
<line x1="488.40" y1="57.00" x2="489.15" y2="58.30" stroke="#60a4af" stroke-width="0.95" stroke-linecap="round"/>
<line x1="489.15" y1="58.30" x2="489.90" y2="59.60" stroke="#64afa3" stroke-width="0.95" stroke-linecap="round"/>
<line x1="489.90" y1="59.60" x2="490.70" y2="58.30" stroke="#64afa3" stroke-width="0.95" stroke-linecap="round"/>
<line x1="490.70" y1="58.30" x2="491.50" y2="57.00" stroke="#60a4af" stroke-width="0.95" stroke-linecap="round"/>
<line x1="491.50" y1="57.00" x2="492.92" y2="57.00" stroke="#90c8cc" stroke-width="0.95" stroke-linecap="round"/>
<line x1="492.92" y1="57.00" x2="494.34" y2="57.00" stroke="#90c8cc" stroke-width="0.95" stroke-linecap="round"/>
<line x1="494.34" y1="57.00" x2="495.76" y2="57.00" stroke="#90c8cc" stroke-width="0.95" stroke-linecap="round"/>
<line x1="495.76" y1="57.00" x2="497.18" y2="57.00" stroke="#90c8cc" stroke-width="0.95" stroke-linecap="round"/>
<line x1="497.18" y1="57.00" x2="498.60" y2="57.00" stroke="#90c8cc" stroke-width="0.95" stroke-linecap="round"/>
<text x="281.60" y="38.55" font-size="4.6" text-anchor="middle" font-weight="normal" fill="#1a1a1a" textLength="9.0" lengthAdjust="spacingAndGlyphs" font-family='"Liberation Serif", serif' stroke="#1a1a1a" stroke-width="0.05">2-HG</text>
<text x="270.80" y="67.25" font-size="4.6" text-anchor="middle" font-weight="normal" fill="#1a1a1a" textLength="5.4" lengthAdjust="spacingAndGlyphs" font-family='"Liberation Serif", serif' stroke="#1a1a1a" stroke-width="0.05">PC</text>
<text x="284.10" y="73.05" font-size="4.6" text-anchor="middle" font-weight="normal" fill="#1a1a1a" textLength="5.0" lengthAdjust="spacingAndGlyphs" font-family='"Liberation Serif", serif' stroke="#1a1a1a" stroke-width="0.05">PE</text>
<text x="296.60" y="69.35" font-size="4.6" text-anchor="middle" font-weight="normal" fill="#1a1a1a" textLength="8.6" lengthAdjust="spacingAndGlyphs" font-family='"Liberation Serif", serif' stroke="#1a1a1a" stroke-width="0.05">GSH</text>
<text x="318.90" y="47.85" font-size="4.6" text-anchor="middle" font-weight="normal" fill="#1a1a1a" textLength="12.6" lengthAdjust="spacingAndGlyphs" font-family='"Liberation Serif", serif' stroke="#1a1a1a" stroke-width="0.05">Scyllo-I</text>
<text x="330.70" y="120.55" font-size="4.6" text-anchor="middle" font-weight="normal" fill="#1a1a1a" textLength="5.4" lengthAdjust="spacingAndGlyphs" font-family='"Liberation Serif", serif' stroke="#1a1a1a" stroke-width="0.05">PC</text>
<text x="345.90" y="64.05" font-size="4.6" text-anchor="middle" font-weight="normal" fill="#1a1a1a" textLength="8.4" lengthAdjust="spacingAndGlyphs" font-family='"Liberation Serif", serif' stroke="#1a1a1a" stroke-width="0.05">GSH</text>
<text x="411.60" y="24.45" font-size="4.6" text-anchor="middle" font-weight="normal" fill="#1a1a1a" textLength="9.0" lengthAdjust="spacingAndGlyphs" font-family='"Liberation Serif", serif' stroke="#1a1a1a" stroke-width="0.05">2-HG</text>
<text x="399.80" y="73.75" font-size="4.6" text-anchor="middle" font-weight="normal" fill="#1a1a1a" textLength="6.2" lengthAdjust="spacingAndGlyphs" font-family='"Liberation Serif", serif' stroke="#1a1a1a" stroke-width="0.05">Glu</text>
<text x="455.30" y="76.85" font-size="4.6" text-anchor="middle" font-weight="normal" fill="#1a1a1a" textLength="6.2" lengthAdjust="spacingAndGlyphs" font-family='"Liberation Serif", serif' stroke="#1a1a1a" stroke-width="0.05">Ala</text>
<line x1="407.30" y1="25.20" x2="398.80" y2="33.40" stroke="#8a8a8a" stroke-width="0.7" />
<line x1="411.60" y1="26.00" x2="415.00" y2="38.90" stroke="#8a8a8a" stroke-width="0.7" />
<line x1="413.30" y1="26.00" x2="424.70" y2="39.70" stroke="#8a8a8a" stroke-width="0.7" />
<line x1="390.60" y1="64.50" x2="396.20" y2="69.60" stroke="#8a8a8a" stroke-width="0.7" />
<line x1="407.30" y1="64.50" x2="403.00" y2="69.30" stroke="#8a8a8a" stroke-width="0.7" />
<text x="7.00" y="206.20" font-size="11.4" text-anchor="start" font-weight="bold" fill="#000"  stroke="#000" stroke-width="0.3">C</text>
<text x="82.62" y="216.90" font-size="8.1" text-anchor="middle" font-weight="normal" fill="#000" textLength="49.45" lengthAdjust="spacingAndGlyphs"  stroke="#000" stroke-width="0.18">Alanine levels</text>
<text transform="translate(11.30,244.90) rotate(-90)" x="0" y="2.74" font-size="7.6" text-anchor="middle" fill="#000" textLength="21.1" lengthAdjust="spacingAndGlyphs" stroke="#000" stroke-width="0.2">Relative</text>
<text transform="translate(23.00,244.90) rotate(-90)" x="0" y="1.93" font-size="6.9" text-anchor="middle" fill="#000" textLength="40.5" lengthAdjust="spacingAndGlyphs" stroke="#000" stroke-width="0.15">amplitude (a.u)</text>
<rect x="56.90" y="234.40" width="20.85" height="32.10" fill="#a3002c"/>
<line x1="67.33" y1="233.30" x2="67.33" y2="234.90" stroke="#3a3a3a" stroke-width="0.9" />
<line x1="62.20" y1="233.30" x2="72.50" y2="233.30" stroke="#3a3a3a" stroke-width="0.95" />
<rect x="87.30" y="245.00" width="21.20" height="21.50" fill="#2f4c7e"/>
<line x1="97.90" y1="243.50" x2="97.90" y2="245.50" stroke="#3a3a3a" stroke-width="0.9" />
<line x1="92.20" y1="243.50" x2="102.80" y2="243.50" stroke="#3a3a3a" stroke-width="0.95" />
<line x1="52.00" y1="223.00" x2="52.00" y2="267.10" stroke="#111" stroke-width="1.3" />
<line x1="49.20" y1="266.50" x2="112.60" y2="266.50" stroke="#111" stroke-width="1.3" />
<line x1="49.00" y1="266.50" x2="52.00" y2="266.50" stroke="#111" stroke-width="1.0" />
<text x="45.80" y="268.45" font-size="6.6" text-anchor="end" font-weight="normal" fill="#000" textLength="3.72" lengthAdjust="spacingAndGlyphs"  stroke="#000" stroke-width="0.12">0</text>
<line x1="49.00" y1="258.42" x2="52.00" y2="258.42" stroke="#111" stroke-width="1.0" />
<text x="45.80" y="260.37" font-size="6.6" text-anchor="end" font-weight="normal" fill="#000" textLength="11.16" lengthAdjust="spacingAndGlyphs"  stroke="#000" stroke-width="0.12">500</text>
<line x1="49.00" y1="250.34" x2="52.00" y2="250.34" stroke="#111" stroke-width="1.0" />
<text x="45.80" y="252.29" font-size="6.6" text-anchor="end" font-weight="normal" fill="#000" textLength="14.88" lengthAdjust="spacingAndGlyphs"  stroke="#000" stroke-width="0.12">1000</text>
<line x1="49.00" y1="242.26" x2="52.00" y2="242.26" stroke="#111" stroke-width="1.0" />
<text x="45.80" y="244.21" font-size="6.6" text-anchor="end" font-weight="normal" fill="#000" textLength="14.88" lengthAdjust="spacingAndGlyphs"  stroke="#000" stroke-width="0.12">1500</text>
<line x1="49.00" y1="234.18" x2="52.00" y2="234.18" stroke="#111" stroke-width="1.0" />
<text x="45.80" y="236.13" font-size="6.6" text-anchor="end" font-weight="normal" fill="#000" textLength="14.88" lengthAdjust="spacingAndGlyphs"  stroke="#000" stroke-width="0.12">2000</text>
<line x1="49.00" y1="226.10" x2="52.00" y2="226.10" stroke="#111" stroke-width="1.0" />
<text x="45.80" y="228.05" font-size="6.6" text-anchor="end" font-weight="normal" fill="#000" textLength="14.88" lengthAdjust="spacingAndGlyphs"  stroke="#000" stroke-width="0.12">2500</text>
<line x1="67.25" y1="266.50" x2="67.25" y2="269.40" stroke="#111" stroke-width="1.0" />
<line x1="97.60" y1="266.50" x2="97.60" y2="269.40" stroke="#111" stroke-width="1.0" />
<text x="67.25" y="279.60" font-size="6.4" text-anchor="middle" font-weight="normal" fill="#000" textLength="19.3" lengthAdjust="spacingAndGlyphs"  stroke="#000" stroke-width="0.12">IDH wt</text>
<text x="97.60" y="279.60" font-size="6.4" text-anchor="middle" font-weight="normal" fill="#000" textLength="22.6" lengthAdjust="spacingAndGlyphs"  stroke="#000" stroke-width="0.12">IDH mut</text>
<line x1="67.25" y1="229.40" x2="97.75" y2="229.40" stroke="#222" stroke-width="1.2" />
<text x="82.50" y="229.60" font-size="6.4" text-anchor="middle" font-weight="normal" fill="#000"  stroke="#000" stroke-width="0.15">***</text>
<text x="197.70" y="216.80" font-size="8.1" text-anchor="middle" font-weight="normal" fill="#000" textLength="60.3" lengthAdjust="spacingAndGlyphs"  stroke="#000" stroke-width="0.18">Glutamate levels</text>
<text transform="translate(127.00,244.80) rotate(-90)" x="0" y="2.74" font-size="7.6" text-anchor="middle" fill="#000" textLength="21.1" lengthAdjust="spacingAndGlyphs" stroke="#000" stroke-width="0.2">Relative</text>
<text transform="translate(138.60,244.80) rotate(-90)" x="0" y="1.93" font-size="6.9" text-anchor="middle" fill="#000" textLength="40.5" lengthAdjust="spacingAndGlyphs" stroke="#000" stroke-width="0.15">amplitude (a.u)</text>
<rect x="172.10" y="233.30" width="20.90" height="33.00" fill="#a3002c"/>
<line x1="182.55" y1="232.30" x2="182.55" y2="233.80" stroke="#3a3a3a" stroke-width="0.9" />
<line x1="177.50" y1="232.30" x2="187.60" y2="232.30" stroke="#3a3a3a" stroke-width="0.95" />
<rect x="202.80" y="240.00" width="20.70" height="26.30" fill="#2f4c7e"/>
<line x1="213.15" y1="239.40" x2="213.15" y2="240.50" stroke="#3a3a3a" stroke-width="0.9" />
<line x1="207.80" y1="239.40" x2="218.50" y2="239.40" stroke="#3a3a3a" stroke-width="0.95" />
<line x1="167.30" y1="223.00" x2="167.30" y2="266.90" stroke="#111" stroke-width="1.3" />
<line x1="164.50" y1="266.30" x2="227.40" y2="266.30" stroke="#111" stroke-width="1.3" />
<line x1="164.30" y1="266.30" x2="167.30" y2="266.30" stroke="#111" stroke-width="1.0" />
<text x="161.10" y="268.25" font-size="6.6" text-anchor="end" font-weight="normal" fill="#000" textLength="3.72" lengthAdjust="spacingAndGlyphs"  stroke="#000" stroke-width="0.12">0</text>
<line x1="164.30" y1="252.90" x2="167.30" y2="252.90" stroke="#111" stroke-width="1.0" />
<text x="161.10" y="254.85" font-size="6.6" text-anchor="end" font-weight="normal" fill="#000" textLength="14.88" lengthAdjust="spacingAndGlyphs"  stroke="#000" stroke-width="0.12">1000</text>
<line x1="164.30" y1="239.50" x2="167.30" y2="239.50" stroke="#111" stroke-width="1.0" />
<text x="161.10" y="241.45" font-size="6.6" text-anchor="end" font-weight="normal" fill="#000" textLength="14.88" lengthAdjust="spacingAndGlyphs"  stroke="#000" stroke-width="0.12">2000</text>
<line x1="164.30" y1="226.10" x2="167.30" y2="226.10" stroke="#111" stroke-width="1.0" />
<text x="161.10" y="228.05" font-size="6.6" text-anchor="end" font-weight="normal" fill="#000" textLength="14.88" lengthAdjust="spacingAndGlyphs"  stroke="#000" stroke-width="0.12">3000</text>
<line x1="182.60" y1="266.30" x2="182.60" y2="269.20" stroke="#111" stroke-width="1.0" />
<line x1="213.20" y1="266.30" x2="213.20" y2="269.20" stroke="#111" stroke-width="1.0" />
<text x="182.60" y="279.90" font-size="6.4" text-anchor="middle" font-weight="normal" fill="#000" textLength="19.3" lengthAdjust="spacingAndGlyphs"  stroke="#000" stroke-width="0.12">IDH wt</text>
<text x="213.20" y="279.90" font-size="6.4" text-anchor="middle" font-weight="normal" fill="#000" textLength="22.6" lengthAdjust="spacingAndGlyphs"  stroke="#000" stroke-width="0.12">IDH mut</text>
<line x1="182.60" y1="229.00" x2="213.20" y2="229.00" stroke="#222" stroke-width="1.2" />
<text x="197.90" y="229.20" font-size="6.4" text-anchor="middle" font-weight="normal" fill="#000"  stroke="#000" stroke-width="0.15">**</text>
<text x="313.35" y="216.80" font-size="8.1" text-anchor="middle" font-weight="normal" fill="#000" textLength="65.0" lengthAdjust="spacingAndGlyphs"  stroke="#000" stroke-width="0.18">Glutathione levels</text>
<text transform="translate(242.60,244.80) rotate(-90)" x="0" y="2.74" font-size="7.6" text-anchor="middle" fill="#000" textLength="21.1" lengthAdjust="spacingAndGlyphs" stroke="#000" stroke-width="0.2">Relative</text>
<text transform="translate(253.80,244.80) rotate(-90)" x="0" y="1.93" font-size="6.9" text-anchor="middle" fill="#000" textLength="40.5" lengthAdjust="spacingAndGlyphs" stroke="#000" stroke-width="0.15">amplitude (a.u)</text>
<rect x="287.20" y="231.10" width="21.50" height="35.20" fill="#a3002c"/>
<line x1="297.95" y1="230.20" x2="297.95" y2="231.60" stroke="#3a3a3a" stroke-width="0.9" />
<line x1="292.80" y1="230.20" x2="302.90" y2="230.20" stroke="#3a3a3a" stroke-width="0.95" />
<rect x="318.40" y="236.20" width="20.90" height="30.10" fill="#2f4c7e"/>
<line x1="328.85" y1="234.30" x2="328.85" y2="236.70" stroke="#3a3a3a" stroke-width="0.9" />
<line x1="323.00" y1="234.30" x2="333.80" y2="234.30" stroke="#3a3a3a" stroke-width="0.95" />
<line x1="282.40" y1="221.80" x2="282.40" y2="266.90" stroke="#111" stroke-width="1.3" />
<line x1="279.80" y1="266.30" x2="343.80" y2="266.30" stroke="#111" stroke-width="1.3" />
<line x1="279.40" y1="266.30" x2="282.40" y2="266.30" stroke="#111" stroke-width="1.0" />
<text x="276.20" y="268.25" font-size="6.6" text-anchor="end" font-weight="normal" fill="#000" textLength="3.72" lengthAdjust="spacingAndGlyphs"  stroke="#000" stroke-width="0.12">0</text>
<line x1="279.40" y1="252.85" x2="282.40" y2="252.85" stroke="#111" stroke-width="1.0" />
<text x="276.20" y="254.80" font-size="6.6" text-anchor="end" font-weight="normal" fill="#000" textLength="11.16" lengthAdjust="spacingAndGlyphs"  stroke="#000" stroke-width="0.12">500</text>
<line x1="279.40" y1="239.40" x2="282.40" y2="239.40" stroke="#111" stroke-width="1.0" />
<text x="276.20" y="241.35" font-size="6.6" text-anchor="end" font-weight="normal" fill="#000" textLength="14.88" lengthAdjust="spacingAndGlyphs"  stroke="#000" stroke-width="0.12">1000</text>
<line x1="279.40" y1="225.95" x2="282.40" y2="225.95" stroke="#111" stroke-width="1.0" />
<text x="276.20" y="227.90" font-size="6.6" text-anchor="end" font-weight="normal" fill="#000" textLength="14.88" lengthAdjust="spacingAndGlyphs"  stroke="#000" stroke-width="0.12">1500</text>
<line x1="297.90" y1="266.30" x2="297.90" y2="269.20" stroke="#111" stroke-width="1.0" />
<line x1="328.50" y1="266.30" x2="328.50" y2="269.20" stroke="#111" stroke-width="1.0" />
<text x="297.90" y="279.50" font-size="6.4" text-anchor="middle" font-weight="normal" fill="#000" textLength="19.3" lengthAdjust="spacingAndGlyphs"  stroke="#000" stroke-width="0.12">IDH wt</text>
<text x="328.50" y="279.50" font-size="6.4" text-anchor="middle" font-weight="normal" fill="#000" textLength="22.6" lengthAdjust="spacingAndGlyphs"  stroke="#000" stroke-width="0.12">IDH mut</text>
<line x1="298.20" y1="227.90" x2="328.50" y2="227.90" stroke="#222" stroke-width="1.2" />
<text x="313.35" y="228.10" font-size="6.4" text-anchor="middle" font-weight="normal" fill="#000"  stroke="#000" stroke-width="0.15">*</text>
<text x="430.85" y="216.80" font-size="8.1" text-anchor="middle" font-weight="normal" fill="#000" textLength="81.0" lengthAdjust="spacingAndGlyphs"  stroke="#000" stroke-width="0.18">Phosphocholine levels</text>
<text transform="translate(360.50,244.60) rotate(-90)" x="0" y="2.74" font-size="7.6" text-anchor="middle" fill="#000" textLength="21.1" lengthAdjust="spacingAndGlyphs" stroke="#000" stroke-width="0.2">Relative</text>
<text transform="translate(370.90,244.60) rotate(-90)" x="0" y="1.93" font-size="6.9" text-anchor="middle" fill="#000" textLength="40.5" lengthAdjust="spacingAndGlyphs" stroke="#000" stroke-width="0.15">amplitude (a.u)</text>
<rect x="405.20" y="231.80" width="21.00" height="34.40" fill="#a3002c"/>
<line x1="415.70" y1="230.40" x2="415.70" y2="232.30" stroke="#3a3a3a" stroke-width="0.9" />
<line x1="410.60" y1="230.40" x2="421.00" y2="230.40" stroke="#3a3a3a" stroke-width="0.95" />
<rect x="435.80" y="246.20" width="21.10" height="20.00" fill="#2f4c7e"/>
<line x1="446.35" y1="244.60" x2="446.35" y2="246.70" stroke="#3a3a3a" stroke-width="0.9" />
<line x1="440.80" y1="244.60" x2="451.70" y2="244.60" stroke="#3a3a3a" stroke-width="0.95" />
<line x1="400.30" y1="222.40" x2="400.30" y2="266.80" stroke="#111" stroke-width="1.3" />
<line x1="396.90" y1="266.20" x2="461.30" y2="266.20" stroke="#111" stroke-width="1.3" />
<line x1="397.30" y1="266.20" x2="400.30" y2="266.20" stroke="#111" stroke-width="1.0" />
<text x="394.10" y="268.15" font-size="6.6" text-anchor="end" font-weight="normal" fill="#000" textLength="3.72" lengthAdjust="spacingAndGlyphs"  stroke="#000" stroke-width="0.12">0</text>
<line x1="397.30" y1="252.50" x2="400.30" y2="252.50" stroke="#111" stroke-width="1.0" />
<text x="394.10" y="254.45" font-size="6.6" text-anchor="end" font-weight="normal" fill="#000" textLength="14.88" lengthAdjust="spacingAndGlyphs"  stroke="#000" stroke-width="0.12">2000</text>
<line x1="397.30" y1="238.80" x2="400.30" y2="238.80" stroke="#111" stroke-width="1.0" />
<text x="394.10" y="240.75" font-size="6.6" text-anchor="end" font-weight="normal" fill="#000" textLength="14.88" lengthAdjust="spacingAndGlyphs"  stroke="#000" stroke-width="0.12">4000</text>
<line x1="397.30" y1="225.10" x2="400.30" y2="225.10" stroke="#111" stroke-width="1.0" />
<text x="394.10" y="227.05" font-size="6.6" text-anchor="end" font-weight="normal" fill="#000" textLength="14.88" lengthAdjust="spacingAndGlyphs"  stroke="#000" stroke-width="0.12">6000</text>
<line x1="415.80" y1="266.20" x2="415.80" y2="269.10" stroke="#111" stroke-width="1.0" />
<line x1="446.10" y1="266.20" x2="446.10" y2="269.10" stroke="#111" stroke-width="1.0" />
<text x="415.80" y="279.30" font-size="6.4" text-anchor="middle" font-weight="normal" fill="#000" textLength="19.3" lengthAdjust="spacingAndGlyphs"  stroke="#000" stroke-width="0.12">IDH wt</text>
<text x="446.10" y="279.30" font-size="6.4" text-anchor="middle" font-weight="normal" fill="#000" textLength="22.6" lengthAdjust="spacingAndGlyphs"  stroke="#000" stroke-width="0.12">IDH mut</text>
<line x1="415.80" y1="228.00" x2="446.40" y2="228.00" stroke="#222" stroke-width="1.2" />
<text x="431.10" y="228.20" font-size="6.4" text-anchor="middle" font-weight="normal" fill="#000"  stroke="#000" stroke-width="0.15">***</text>
<text x="82.15" y="298.00" font-size="8.1" text-anchor="middle" font-weight="normal" fill="#000" textLength="80.2" lengthAdjust="spacingAndGlyphs"  stroke="#000" stroke-width="0.18">Phosphoethanolamine</text>
<text x="82.30" y="308.40" font-size="8.1" text-anchor="middle" font-weight="normal" fill="#000" textLength="19.9" lengthAdjust="spacingAndGlyphs"  stroke="#000" stroke-width="0.18">levels</text>
<text transform="translate(11.40,336.20) rotate(-90)" x="0" y="2.74" font-size="7.6" text-anchor="middle" fill="#000" textLength="21.1" lengthAdjust="spacingAndGlyphs" stroke="#000" stroke-width="0.2">Relative</text>
<text transform="translate(22.30,336.20) rotate(-90)" x="0" y="1.93" font-size="6.9" text-anchor="middle" fill="#000" textLength="40.5" lengthAdjust="spacingAndGlyphs" stroke="#000" stroke-width="0.15">amplitude (a.u)</text>
<rect x="56.50" y="324.20" width="21.10" height="35.00" fill="#a3002c"/>
<line x1="67.05" y1="322.70" x2="67.05" y2="324.70" stroke="#3a3a3a" stroke-width="0.9" />
<line x1="61.80" y1="322.70" x2="72.20" y2="322.70" stroke="#3a3a3a" stroke-width="0.95" />
<rect x="87.30" y="332.70" width="21.20" height="26.50" fill="#2f4c7e"/>
<line x1="97.90" y1="331.20" x2="97.90" y2="333.20" stroke="#3a3a3a" stroke-width="0.9" />
<line x1="92.70" y1="331.20" x2="103.00" y2="331.20" stroke="#3a3a3a" stroke-width="0.95" />
<line x1="51.80" y1="313.50" x2="51.80" y2="359.80" stroke="#111" stroke-width="1.3" />
<line x1="48.80" y1="359.20" x2="113.80" y2="359.20" stroke="#111" stroke-width="1.3" />
<line x1="48.80" y1="359.20" x2="51.80" y2="359.20" stroke="#111" stroke-width="1.0" />
<text x="45.60" y="361.15" font-size="6.6" text-anchor="end" font-weight="normal" fill="#000" textLength="3.72" lengthAdjust="spacingAndGlyphs"  stroke="#000" stroke-width="0.12">0</text>
<line x1="48.80" y1="348.50" x2="51.80" y2="348.50" stroke="#111" stroke-width="1.0" />
<text x="45.60" y="350.45" font-size="6.6" text-anchor="end" font-weight="normal" fill="#000" textLength="14.88" lengthAdjust="spacingAndGlyphs"  stroke="#000" stroke-width="0.12">1000</text>
<line x1="48.80" y1="337.80" x2="51.80" y2="337.80" stroke="#111" stroke-width="1.0" />
<text x="45.60" y="339.75" font-size="6.6" text-anchor="end" font-weight="normal" fill="#000" textLength="14.88" lengthAdjust="spacingAndGlyphs"  stroke="#000" stroke-width="0.12">2000</text>
<line x1="48.80" y1="327.10" x2="51.80" y2="327.10" stroke="#111" stroke-width="1.0" />
<text x="45.60" y="329.05" font-size="6.6" text-anchor="end" font-weight="normal" fill="#000" textLength="14.88" lengthAdjust="spacingAndGlyphs"  stroke="#000" stroke-width="0.12">3000</text>
<line x1="48.80" y1="316.40" x2="51.80" y2="316.40" stroke="#111" stroke-width="1.0" />
<text x="45.60" y="318.35" font-size="6.6" text-anchor="end" font-weight="normal" fill="#000" textLength="14.88" lengthAdjust="spacingAndGlyphs"  stroke="#000" stroke-width="0.12">4000</text>
<line x1="67.10" y1="359.20" x2="67.10" y2="362.10" stroke="#111" stroke-width="1.0" />
<line x1="97.90" y1="359.20" x2="97.90" y2="362.10" stroke="#111" stroke-width="1.0" />
<text x="67.10" y="372.50" font-size="6.4" text-anchor="middle" font-weight="normal" fill="#000" textLength="19.3" lengthAdjust="spacingAndGlyphs"  stroke="#000" stroke-width="0.12">IDH wt</text>
<text x="97.90" y="372.50" font-size="6.4" text-anchor="middle" font-weight="normal" fill="#000" textLength="22.6" lengthAdjust="spacingAndGlyphs"  stroke="#000" stroke-width="0.12">IDH mut</text>
<line x1="67.00" y1="320.80" x2="97.60" y2="320.80" stroke="#222" stroke-width="1.2" />
<text x="82.30" y="321.00" font-size="6.4" text-anchor="middle" font-weight="normal" fill="#000"  stroke="#000" stroke-width="0.15">***</text>
<text x="197.95" y="298.60" font-size="8.1" text-anchor="middle" font-weight="normal" fill="#000" textLength="66.4" lengthAdjust="spacingAndGlyphs"  stroke="#000" stroke-width="0.18">2-hydroxyglutarate</text>
<text x="197.70" y="308.40" font-size="8.1" text-anchor="middle" font-weight="normal" fill="#000" textLength="19.7" lengthAdjust="spacingAndGlyphs"  stroke="#000" stroke-width="0.18">levels</text>
<text transform="translate(127.20,336.20) rotate(-90)" x="0" y="2.74" font-size="7.6" text-anchor="middle" fill="#000" textLength="21.1" lengthAdjust="spacingAndGlyphs" stroke="#000" stroke-width="0.2">Relative</text>
<text transform="translate(138.60,336.20) rotate(-90)" x="0" y="1.93" font-size="6.9" text-anchor="middle" fill="#000" textLength="40.5" lengthAdjust="spacingAndGlyphs" stroke="#000" stroke-width="0.15">amplitude (a.u)</text>
<rect x="172.00" y="353.20" width="21.10" height="5.90" fill="#a3002c"/>
<rect x="202.80" y="326.20" width="21.00" height="32.90" fill="#2f4c7e"/>
<line x1="213.30" y1="324.30" x2="213.30" y2="326.70" stroke="#3a3a3a" stroke-width="0.9" />
<line x1="208.20" y1="324.30" x2="218.50" y2="324.30" stroke="#3a3a3a" stroke-width="0.95" />
<line x1="167.60" y1="313.80" x2="167.60" y2="359.70" stroke="#111" stroke-width="1.3" />
<line x1="164.80" y1="359.10" x2="228.90" y2="359.10" stroke="#111" stroke-width="1.3" />
<line x1="164.60" y1="359.10" x2="167.60" y2="359.10" stroke="#111" stroke-width="1.0" />
<text x="161.40" y="361.05" font-size="6.6" text-anchor="end" font-weight="normal" fill="#000" textLength="3.72" lengthAdjust="spacingAndGlyphs"  stroke="#000" stroke-width="0.12">0</text>
<line x1="164.60" y1="348.40" x2="167.60" y2="348.40" stroke="#111" stroke-width="1.0" />
<text x="161.40" y="350.35" font-size="6.6" text-anchor="end" font-weight="normal" fill="#000" textLength="14.88" lengthAdjust="spacingAndGlyphs"  stroke="#000" stroke-width="0.12">1000</text>
<line x1="164.60" y1="337.70" x2="167.60" y2="337.70" stroke="#111" stroke-width="1.0" />
<text x="161.40" y="339.65" font-size="6.6" text-anchor="end" font-weight="normal" fill="#000" textLength="14.88" lengthAdjust="spacingAndGlyphs"  stroke="#000" stroke-width="0.12">2000</text>
<line x1="164.60" y1="327.00" x2="167.60" y2="327.00" stroke="#111" stroke-width="1.0" />
<text x="161.40" y="328.95" font-size="6.6" text-anchor="end" font-weight="normal" fill="#000" textLength="14.88" lengthAdjust="spacingAndGlyphs"  stroke="#000" stroke-width="0.12">3000</text>
<line x1="164.60" y1="316.30" x2="167.60" y2="316.30" stroke="#111" stroke-width="1.0" />
<text x="161.40" y="318.25" font-size="6.6" text-anchor="end" font-weight="normal" fill="#000" textLength="14.88" lengthAdjust="spacingAndGlyphs"  stroke="#000" stroke-width="0.12">4000</text>
<line x1="182.40" y1="359.10" x2="182.40" y2="362.00" stroke="#111" stroke-width="1.0" />
<line x1="213.30" y1="359.10" x2="213.30" y2="362.00" stroke="#111" stroke-width="1.0" />
<text x="182.40" y="372.20" font-size="6.4" text-anchor="middle" font-weight="normal" fill="#000" textLength="19.3" lengthAdjust="spacingAndGlyphs"  stroke="#000" stroke-width="0.12">IDH wt</text>
<text x="213.30" y="372.20" font-size="6.4" text-anchor="middle" font-weight="normal" fill="#000" textLength="22.6" lengthAdjust="spacingAndGlyphs"  stroke="#000" stroke-width="0.12">IDH mut</text>
<line x1="182.50" y1="320.10" x2="213.20" y2="320.10" stroke="#222" stroke-width="1.2" />
<text x="197.85" y="320.30" font-size="6.4" text-anchor="middle" font-weight="normal" fill="#000"  stroke="#000" stroke-width="0.15">***</text>
<text x="313.25" y="299.60" font-size="8.1" text-anchor="middle" font-weight="normal" fill="#000" textLength="48.2" lengthAdjust="spacingAndGlyphs"  stroke="#000" stroke-width="0.18">Scylloinositol</text>
<text x="313.00" y="309.50" font-size="8.1" text-anchor="middle" font-weight="normal" fill="#000" textLength="19.9" lengthAdjust="spacingAndGlyphs"  stroke="#000" stroke-width="0.18">levels</text>
<text transform="translate(242.30,336.20) rotate(-90)" x="0" y="2.74" font-size="7.6" text-anchor="middle" fill="#000" textLength="21.1" lengthAdjust="spacingAndGlyphs" stroke="#000" stroke-width="0.2">Relative</text>
<text transform="translate(253.80,336.20) rotate(-90)" x="0" y="1.93" font-size="6.9" text-anchor="middle" fill="#000" textLength="40.5" lengthAdjust="spacingAndGlyphs" stroke="#000" stroke-width="0.15">amplitude (a.u)</text>
<rect x="287.00" y="333.70" width="21.30" height="25.30" fill="#a3002c"/>
<line x1="297.65" y1="332.70" x2="297.65" y2="334.20" stroke="#3a3a3a" stroke-width="0.9" />
<line x1="292.50" y1="332.70" x2="303.00" y2="332.70" stroke="#3a3a3a" stroke-width="0.95" />
<rect x="318.00" y="324.20" width="21.00" height="34.80" fill="#2f4c7e"/>
<line x1="328.50" y1="322.50" x2="328.50" y2="324.70" stroke="#3a3a3a" stroke-width="0.9" />
<line x1="323.00" y1="322.50" x2="333.50" y2="322.50" stroke="#3a3a3a" stroke-width="0.95" />
<line x1="281.70" y1="314.60" x2="281.70" y2="359.60" stroke="#111" stroke-width="1.3" />
<line x1="278.80" y1="359.00" x2="343.30" y2="359.00" stroke="#111" stroke-width="1.3" />
<line x1="278.70" y1="359.00" x2="281.70" y2="359.00" stroke="#111" stroke-width="1.0" />
<text x="275.50" y="360.95" font-size="6.6" text-anchor="end" font-weight="normal" fill="#000" textLength="3.72" lengthAdjust="spacingAndGlyphs"  stroke="#000" stroke-width="0.12">0</text>
<line x1="278.70" y1="350.80" x2="281.70" y2="350.80" stroke="#111" stroke-width="1.0" />
<text x="275.50" y="352.75" font-size="6.6" text-anchor="end" font-weight="normal" fill="#000" textLength="11.16" lengthAdjust="spacingAndGlyphs"  stroke="#000" stroke-width="0.12">200</text>
<line x1="278.70" y1="342.60" x2="281.70" y2="342.60" stroke="#111" stroke-width="1.0" />
<text x="275.50" y="344.55" font-size="6.6" text-anchor="end" font-weight="normal" fill="#000" textLength="11.16" lengthAdjust="spacingAndGlyphs"  stroke="#000" stroke-width="0.12">400</text>
<line x1="278.70" y1="334.40" x2="281.70" y2="334.40" stroke="#111" stroke-width="1.0" />
<text x="275.50" y="336.35" font-size="6.6" text-anchor="end" font-weight="normal" fill="#000" textLength="11.16" lengthAdjust="spacingAndGlyphs"  stroke="#000" stroke-width="0.12">600</text>
<line x1="278.70" y1="326.20" x2="281.70" y2="326.20" stroke="#111" stroke-width="1.0" />
<text x="275.50" y="328.15" font-size="6.6" text-anchor="end" font-weight="normal" fill="#000" textLength="11.16" lengthAdjust="spacingAndGlyphs"  stroke="#000" stroke-width="0.12">800</text>
<line x1="278.70" y1="318.00" x2="281.70" y2="318.00" stroke="#111" stroke-width="1.0" />
<text x="275.50" y="319.95" font-size="6.6" text-anchor="end" font-weight="normal" fill="#000" textLength="14.88" lengthAdjust="spacingAndGlyphs"  stroke="#000" stroke-width="0.12">1000</text>
<line x1="297.30" y1="359.00" x2="297.30" y2="361.90" stroke="#111" stroke-width="1.0" />
<line x1="328.30" y1="359.00" x2="328.30" y2="361.90" stroke="#111" stroke-width="1.0" />
<text x="297.30" y="372.50" font-size="6.4" text-anchor="middle" font-weight="normal" fill="#000" textLength="19.3" lengthAdjust="spacingAndGlyphs"  stroke="#000" stroke-width="0.12">IDH wt</text>
<text x="328.30" y="372.50" font-size="6.4" text-anchor="middle" font-weight="normal" fill="#000" textLength="22.6" lengthAdjust="spacingAndGlyphs"  stroke="#000" stroke-width="0.12">IDH mut</text>
<line x1="298.00" y1="320.20" x2="328.50" y2="320.20" stroke="#222" stroke-width="1.2" />
<text x="313.25" y="320.40" font-size="6.4" text-anchor="middle" font-weight="normal" fill="#000"  stroke="#000" stroke-width="0.15">***</text>
<rect x="0.7" y="0.7" width="518.6" height="379.6" fill="none" stroke="#000" stroke-width="1.4"/>
</svg>
</body></html>
